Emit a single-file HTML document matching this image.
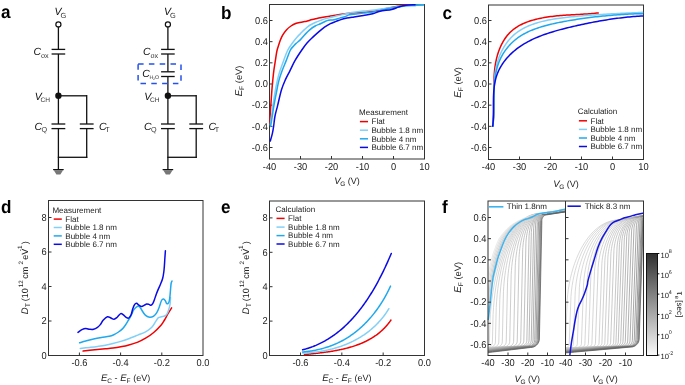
<!DOCTYPE html>
<html><head><meta charset="utf-8"><style>
html,body{margin:0;padding:0;background:#fff;}
svg{display:block;will-change:transform;}
text{font-family:"Liberation Sans", sans-serif;text-rendering:geometricPrecision;}
</style></head><body>
<svg width="685" height="385" viewBox="0 0 685 385">

<g transform="translate(0.9,18.2) scale(0.95,1)"><text x="0" y="0" font-size="18" font-weight="bold" fill="#000">a</text></g>
<g transform="translate(221.1,18.6) scale(0.95,1)"><text x="0" y="0" font-size="18" font-weight="bold" fill="#000">b</text></g>
<g transform="translate(442.6,18.5) scale(0.95,1)"><text x="0" y="0" font-size="18" font-weight="bold" fill="#000">c</text></g>
<g transform="translate(0.9,212.7) scale(0.95,1)"><text x="0" y="0" font-size="18" font-weight="bold" fill="#000">d</text></g>
<g transform="translate(221,213) scale(0.95,1)"><text x="0" y="0" font-size="18" font-weight="bold" fill="#000">e</text></g>
<g transform="translate(441.9,212.7) scale(0.95,1)"><text x="0" y="0" font-size="18" font-weight="bold" fill="#000">f</text></g>
<text x="54.4" y="15" font-size="10.5" text-anchor="start" font-weight="normal" fill="#111" font-style="italic" >V</text>
<text x="60.6" y="17.8" font-size="7.4" text-anchor="start" font-weight="normal" fill="#333" >G</text>
<circle cx="58.4" cy="24.4" r="2.55" fill="#fff" stroke="#111" stroke-width="1.2"/>
<line x1="58.4" y1="27" x2="58.4" y2="49.4" stroke="#111" stroke-width="1.3" />
<line x1="51.6" y1="49.4" x2="65.2" y2="49.4" stroke="#111" stroke-width="1.3" />
<line x1="51.6" y1="54" x2="65.2" y2="54" stroke="#111" stroke-width="1.3" />
<text x="33.4" y="54.7" font-size="10.5" text-anchor="start" font-weight="normal" fill="#111" font-style="italic" >C</text>
<text x="40.9" y="57.5" font-size="7.2" text-anchor="start" font-weight="normal" fill="#333" >ox</text>
<line x1="58.4" y1="54" x2="58.4" y2="95.8" stroke="#111" stroke-width="1.3" />
<circle cx="58.4" cy="95.8" r="3.2" fill="#111"/>
<text x="34.8" y="100.2" font-size="10.5" text-anchor="start" font-weight="normal" fill="#111" font-style="italic" >V</text>
<text x="40.5" y="102.2" font-size="6.6" text-anchor="start" font-weight="normal" fill="#333" >CH</text>
<line x1="58.4" y1="95.8" x2="86.7" y2="95.8" stroke="#111" stroke-width="1.3" />
<line x1="86.7" y1="95.1" x2="86.7" y2="124" stroke="#111" stroke-width="1.3" />
<line x1="58.4" y1="95.8" x2="58.4" y2="124" stroke="#111" stroke-width="1.3" />
<line x1="51.5" y1="124" x2="65.3" y2="124" stroke="#111" stroke-width="1.3" />
<line x1="51.5" y1="128.6" x2="65.3" y2="128.6" stroke="#111" stroke-width="1.3" />
<line x1="79.8" y1="124" x2="93.6" y2="124" stroke="#111" stroke-width="1.3" />
<line x1="79.8" y1="128.6" x2="93.6" y2="128.6" stroke="#111" stroke-width="1.3" />
<text x="34.4" y="129.6" font-size="10.5" text-anchor="start" font-weight="normal" fill="#111" font-style="italic" >C</text>
<text x="41.5" y="131.6" font-size="7.2" text-anchor="start" font-weight="normal" fill="#333" >Q</text>
<text x="99" y="129.8" font-size="10.5" text-anchor="start" font-weight="normal" fill="#111" font-style="italic" >C</text>
<text x="105.3" y="131.8" font-size="7.2" text-anchor="start" font-weight="normal" fill="#333" >T</text>
<line x1="58.4" y1="128.6" x2="58.4" y2="169.5" stroke="#111" stroke-width="1.3" />
<line x1="86.7" y1="128.6" x2="86.7" y2="157.9" stroke="#111" stroke-width="1.3" />
<line x1="57.8" y1="157.3" x2="87.3" y2="157.3" stroke="#111" stroke-width="1.3" />
<polygon points="53.8,170.2 63,170.2 60.4,174.6 56.4,174.6" fill="#777"/>
<line x1="53.1" y1="169.6" x2="63.7" y2="169.6" stroke="#111" stroke-width="1.2" />
<text x="163.9" y="15" font-size="10.5" text-anchor="start" font-weight="normal" fill="#111" font-style="italic" >V</text>
<text x="170.1" y="17.8" font-size="7.4" text-anchor="start" font-weight="normal" fill="#333" >G</text>
<circle cx="167.9" cy="24.4" r="2.55" fill="#fff" stroke="#111" stroke-width="1.2"/>
<line x1="167.9" y1="27" x2="167.9" y2="49.4" stroke="#111" stroke-width="1.3" />
<line x1="161.1" y1="49.4" x2="174.7" y2="49.4" stroke="#111" stroke-width="1.3" />
<line x1="161.1" y1="54" x2="174.7" y2="54" stroke="#111" stroke-width="1.3" />
<text x="142.9" y="54.7" font-size="10.5" text-anchor="start" font-weight="normal" fill="#111" font-style="italic" >C</text>
<text x="150.4" y="57.5" font-size="7.2" text-anchor="start" font-weight="normal" fill="#333" >ox</text>
<line x1="167.9" y1="54" x2="167.9" y2="71.8" stroke="#111" stroke-width="1.3" />
<line x1="161.1" y1="71.8" x2="174.7" y2="71.8" stroke="#111" stroke-width="1.3" />
<line x1="161.1" y1="76.5" x2="174.7" y2="76.5" stroke="#111" stroke-width="1.3" />
<line x1="167.9" y1="76.5" x2="167.9" y2="95.8" stroke="#111" stroke-width="1.3" />
<text x="142.3" y="76.9" font-size="10.5" text-anchor="start" font-weight="normal" fill="#111" font-style="italic" >C</text>
<text x="149.4" y="78.8" font-size="5.2" text-anchor="start" font-weight="normal" fill="#333" >H</text>
<text x="153" y="79.6" font-size="3.6" text-anchor="start" font-weight="normal" fill="#333" >2</text>
<text x="155.1" y="78.8" font-size="5.2" text-anchor="start" font-weight="normal" fill="#333" >O</text>
<rect x="138.1" y="64.1" width="42.9" height="19.3" fill="none" stroke="#2452f0" stroke-width="1.5" stroke-dasharray="5.5,5.3" stroke-dashoffset="0"/>
<circle cx="167.9" cy="95.8" r="3.2" fill="#111"/>
<text x="144.3" y="100.2" font-size="10.5" text-anchor="start" font-weight="normal" fill="#111" font-style="italic" >V</text>
<text x="150" y="102.2" font-size="6.6" text-anchor="start" font-weight="normal" fill="#333" >CH</text>
<line x1="167.9" y1="95.8" x2="196.2" y2="95.8" stroke="#111" stroke-width="1.3" />
<line x1="196.2" y1="95.1" x2="196.2" y2="124" stroke="#111" stroke-width="1.3" />
<line x1="167.9" y1="95.8" x2="167.9" y2="124" stroke="#111" stroke-width="1.3" />
<line x1="161" y1="124" x2="174.8" y2="124" stroke="#111" stroke-width="1.3" />
<line x1="161" y1="128.6" x2="174.8" y2="128.6" stroke="#111" stroke-width="1.3" />
<line x1="189.3" y1="124" x2="203.1" y2="124" stroke="#111" stroke-width="1.3" />
<line x1="189.3" y1="128.6" x2="203.1" y2="128.6" stroke="#111" stroke-width="1.3" />
<text x="143.9" y="129.6" font-size="10.5" text-anchor="start" font-weight="normal" fill="#111" font-style="italic" >C</text>
<text x="151" y="131.6" font-size="7.2" text-anchor="start" font-weight="normal" fill="#333" >Q</text>
<text x="208.5" y="129.8" font-size="10.5" text-anchor="start" font-weight="normal" fill="#111" font-style="italic" >C</text>
<text x="214.8" y="131.8" font-size="7.2" text-anchor="start" font-weight="normal" fill="#333" >T</text>
<line x1="167.9" y1="128.6" x2="167.9" y2="169.5" stroke="#111" stroke-width="1.3" />
<line x1="196.2" y1="128.6" x2="196.2" y2="157.9" stroke="#111" stroke-width="1.3" />
<line x1="167.3" y1="157.3" x2="196.8" y2="157.3" stroke="#111" stroke-width="1.3" />
<polygon points="163.3,170.2 172.5,170.2 169.9,174.6 165.9,174.6" fill="#777"/>
<line x1="162.6" y1="169.6" x2="173.2" y2="169.6" stroke="#111" stroke-width="1.2" />
<rect x="269.5" y="4.5" width="155" height="154.5" fill="none" stroke="#333" stroke-width="1"/>
<line x1="269.5" y1="20.5" x2="272.5" y2="20.5" stroke="#333" stroke-width="1" />
<g transform="translate(267.9,23.8) scale(0.93,1)"><text x="0" y="0" font-size="10" text-anchor="end" fill="#222">0.6</text></g>
<line x1="269.5" y1="41.67" x2="272.5" y2="41.67" stroke="#333" stroke-width="1" />
<g transform="translate(267.9,44.97) scale(0.93,1)"><text x="0" y="0" font-size="10" text-anchor="end" fill="#222">0.4</text></g>
<line x1="269.5" y1="62.83" x2="272.5" y2="62.83" stroke="#333" stroke-width="1" />
<g transform="translate(267.9,66.13) scale(0.93,1)"><text x="0" y="0" font-size="10" text-anchor="end" fill="#222">0.2</text></g>
<line x1="269.5" y1="84" x2="272.5" y2="84" stroke="#333" stroke-width="1" />
<g transform="translate(267.9,87.3) scale(0.93,1)"><text x="0" y="0" font-size="10" text-anchor="end" fill="#222">0.0</text></g>
<line x1="269.5" y1="105.17" x2="272.5" y2="105.17" stroke="#333" stroke-width="1" />
<g transform="translate(267.9,108.47) scale(0.93,1)"><text x="0" y="0" font-size="10" text-anchor="end" fill="#222">-0.2</text></g>
<line x1="269.5" y1="126.33" x2="272.5" y2="126.33" stroke="#333" stroke-width="1" />
<g transform="translate(267.9,129.63) scale(0.93,1)"><text x="0" y="0" font-size="10" text-anchor="end" fill="#222">-0.4</text></g>
<line x1="269.5" y1="147.5" x2="272.5" y2="147.5" stroke="#333" stroke-width="1" />
<g transform="translate(267.9,150.8) scale(0.93,1)"><text x="0" y="0" font-size="10" text-anchor="end" fill="#222">-0.6</text></g>
<line x1="300.5" y1="159" x2="300.5" y2="156" stroke="#333" stroke-width="1" />
<g transform="translate(300.5,170.4) scale(0.93,1)"><text x="0" y="0" font-size="10" text-anchor="middle" fill="#222">-30</text></g>
<line x1="331.5" y1="159" x2="331.5" y2="156" stroke="#333" stroke-width="1" />
<g transform="translate(331.5,170.4) scale(0.93,1)"><text x="0" y="0" font-size="10" text-anchor="middle" fill="#222">-20</text></g>
<line x1="362.5" y1="159" x2="362.5" y2="156" stroke="#333" stroke-width="1" />
<g transform="translate(362.5,170.4) scale(0.93,1)"><text x="0" y="0" font-size="10" text-anchor="middle" fill="#222">-10</text></g>
<line x1="393.5" y1="159" x2="393.5" y2="156" stroke="#333" stroke-width="1" />
<g transform="translate(393.5,170.4) scale(0.93,1)"><text x="0" y="0" font-size="10" text-anchor="middle" fill="#222">0</text></g>
<g transform="translate(269.5,170.2) scale(0.93,1)"><text x="0" y="0" font-size="10" text-anchor="middle" fill="#222">-40</text></g>
<g transform="translate(424.5,170.2) scale(0.93,1)"><text x="0" y="0" font-size="10" text-anchor="middle" fill="#222">10</text></g>
<text x="334.3" y="184" font-size="9.5" text-anchor="start" font-weight="normal" fill="#222" font-style="italic" >V</text>
<text x="340.3" y="186" font-size="6.5" text-anchor="start" font-weight="normal" fill="#222" >G</text>
<text x="345.2" y="184" font-size="9" text-anchor="start" font-weight="normal" fill="#222" xml:space="preserve"> (V)</text>
<g transform="translate(242,81.45) rotate(-90)">
<text x="-14.85" y="0" font-size="9.8" text-anchor="start" font-weight="normal" fill="#222" font-style="italic" >E</text>
<text x="-8.45" y="2" font-size="6.7" text-anchor="start" font-weight="normal" fill="#222" >F</text>
<text x="-4.35" y="0" font-size="9.3" text-anchor="start" font-weight="normal" fill="#222" xml:space="preserve"> (eV)</text>
</g>
<rect x="488.5" y="5" width="155" height="154.5" fill="none" stroke="#333" stroke-width="1"/>
<line x1="488.5" y1="20.5" x2="491.5" y2="20.5" stroke="#333" stroke-width="1" />
<g transform="translate(486.9,23.8) scale(0.93,1)"><text x="0" y="0" font-size="10" text-anchor="end" fill="#222">0.6</text></g>
<line x1="488.5" y1="41.67" x2="491.5" y2="41.67" stroke="#333" stroke-width="1" />
<g transform="translate(486.9,44.97) scale(0.93,1)"><text x="0" y="0" font-size="10" text-anchor="end" fill="#222">0.4</text></g>
<line x1="488.5" y1="62.83" x2="491.5" y2="62.83" stroke="#333" stroke-width="1" />
<g transform="translate(486.9,66.13) scale(0.93,1)"><text x="0" y="0" font-size="10" text-anchor="end" fill="#222">0.2</text></g>
<line x1="488.5" y1="84" x2="491.5" y2="84" stroke="#333" stroke-width="1" />
<g transform="translate(486.9,87.3) scale(0.93,1)"><text x="0" y="0" font-size="10" text-anchor="end" fill="#222">0.0</text></g>
<line x1="488.5" y1="105.17" x2="491.5" y2="105.17" stroke="#333" stroke-width="1" />
<g transform="translate(486.9,108.47) scale(0.93,1)"><text x="0" y="0" font-size="10" text-anchor="end" fill="#222">-0.2</text></g>
<line x1="488.5" y1="126.33" x2="491.5" y2="126.33" stroke="#333" stroke-width="1" />
<g transform="translate(486.9,129.63) scale(0.93,1)"><text x="0" y="0" font-size="10" text-anchor="end" fill="#222">-0.4</text></g>
<line x1="488.5" y1="147.5" x2="491.5" y2="147.5" stroke="#333" stroke-width="1" />
<g transform="translate(486.9,150.8) scale(0.93,1)"><text x="0" y="0" font-size="10" text-anchor="end" fill="#222">-0.6</text></g>
<line x1="519.5" y1="159.5" x2="519.5" y2="156.5" stroke="#333" stroke-width="1" />
<g transform="translate(519.5,170.4) scale(0.93,1)"><text x="0" y="0" font-size="10" text-anchor="middle" fill="#222">-30</text></g>
<line x1="550.5" y1="159.5" x2="550.5" y2="156.5" stroke="#333" stroke-width="1" />
<g transform="translate(550.5,170.4) scale(0.93,1)"><text x="0" y="0" font-size="10" text-anchor="middle" fill="#222">-20</text></g>
<line x1="581.5" y1="159.5" x2="581.5" y2="156.5" stroke="#333" stroke-width="1" />
<g transform="translate(581.5,170.4) scale(0.93,1)"><text x="0" y="0" font-size="10" text-anchor="middle" fill="#222">-10</text></g>
<line x1="612.5" y1="159.5" x2="612.5" y2="156.5" stroke="#333" stroke-width="1" />
<g transform="translate(612.5,170.4) scale(0.93,1)"><text x="0" y="0" font-size="10" text-anchor="middle" fill="#222">0</text></g>
<g transform="translate(488.5,170.2) scale(0.93,1)"><text x="0" y="0" font-size="10" text-anchor="middle" fill="#222">-40</text></g>
<g transform="translate(643.5,170.2) scale(0.93,1)"><text x="0" y="0" font-size="10" text-anchor="middle" fill="#222">10</text></g>
<text x="553.3" y="186.6" font-size="9.5" text-anchor="start" font-weight="normal" fill="#222" font-style="italic" >V</text>
<text x="559.3" y="188.6" font-size="6.5" text-anchor="start" font-weight="normal" fill="#222" >G</text>
<text x="564.2" y="186.6" font-size="9" text-anchor="start" font-weight="normal" fill="#222" xml:space="preserve"> (V)</text>
<g transform="translate(461,82.85) rotate(-90)">
<text x="-14.85" y="0" font-size="9.8" text-anchor="start" font-weight="normal" fill="#222" font-style="italic" >E</text>
<text x="-8.45" y="2" font-size="6.7" text-anchor="start" font-weight="normal" fill="#222" >F</text>
<text x="-4.35" y="0" font-size="9.3" text-anchor="start" font-weight="normal" fill="#222" xml:space="preserve"> (eV)</text>
</g>
<text x="359.1" y="115" font-size="8" text-anchor="start" font-weight="normal" fill="#222" >Measurement</text>
<line x1="359.9" y1="121.6" x2="368" y2="121.6" stroke="#f00000" stroke-width="1.5" />
<text x="371.5" y="124.4" font-size="8" text-anchor="start" font-weight="normal" fill="#222" >Flat</text>
<line x1="359.9" y1="130.2" x2="368" y2="130.2" stroke="#82cff8" stroke-width="1.5" />
<text x="371.5" y="133" font-size="8" text-anchor="start" font-weight="normal" fill="#222" >Bubble 1.8 nm</text>
<line x1="359.9" y1="138.8" x2="368" y2="138.8" stroke="#1fa8ee" stroke-width="1.5" />
<text x="371.5" y="141.6" font-size="8" text-anchor="start" font-weight="normal" fill="#222" >Bubble 4 nm</text>
<line x1="359.9" y1="147.4" x2="368" y2="147.4" stroke="#0a0ae6" stroke-width="1.5" />
<text x="371.5" y="150.2" font-size="8" text-anchor="start" font-weight="normal" fill="#222" >Bubble 6.7 nm</text>
<text x="577.7" y="114.3" font-size="8" text-anchor="start" font-weight="normal" fill="#222" >Calculation</text>
<line x1="578.9" y1="120.8" x2="587" y2="120.8" stroke="#f00000" stroke-width="1.5" />
<text x="590.5" y="123.6" font-size="8" text-anchor="start" font-weight="normal" fill="#222" >Flat</text>
<line x1="578.9" y1="129.4" x2="587" y2="129.4" stroke="#82cff8" stroke-width="1.5" />
<text x="590.5" y="132.2" font-size="8" text-anchor="start" font-weight="normal" fill="#222" >Bubble 1.8 nm</text>
<line x1="578.9" y1="138" x2="587" y2="138" stroke="#1fa8ee" stroke-width="1.5" />
<text x="590.5" y="140.8" font-size="8" text-anchor="start" font-weight="normal" fill="#222" >Bubble 4 nm</text>
<line x1="578.9" y1="146.5" x2="587" y2="146.5" stroke="#0a0ae6" stroke-width="1.5" />
<text x="590.5" y="149.3" font-size="8" text-anchor="start" font-weight="normal" fill="#222" >Bubble 6.7 nm</text>
<rect x="48.5" y="200.5" width="154.5" height="155" fill="none" stroke="#333" stroke-width="1"/>
<line x1="48.5" y1="355.5" x2="51.5" y2="355.5" stroke="#333" stroke-width="1" />
<g transform="translate(46.6,358.8) scale(0.93,1)"><text x="0" y="0" font-size="10" text-anchor="end" fill="#222">0</text></g>
<line x1="48.5" y1="321" x2="51.5" y2="321" stroke="#333" stroke-width="1" />
<g transform="translate(46.6,324.3) scale(0.93,1)"><text x="0" y="0" font-size="10" text-anchor="end" fill="#222">2</text></g>
<line x1="48.5" y1="286.5" x2="51.5" y2="286.5" stroke="#333" stroke-width="1" />
<g transform="translate(46.6,289.8) scale(0.93,1)"><text x="0" y="0" font-size="10" text-anchor="end" fill="#222">4</text></g>
<line x1="48.5" y1="252" x2="51.5" y2="252" stroke="#333" stroke-width="1" />
<g transform="translate(46.6,255.3) scale(0.93,1)"><text x="0" y="0" font-size="10" text-anchor="end" fill="#222">6</text></g>
<line x1="48.5" y1="217.5" x2="51.5" y2="217.5" stroke="#333" stroke-width="1" />
<g transform="translate(46.6,220.8) scale(0.93,1)"><text x="0" y="0" font-size="10" text-anchor="end" fill="#222">8</text></g>
<line x1="79.4" y1="355.5" x2="79.4" y2="352.5" stroke="#333" stroke-width="1" />
<g transform="translate(79.4,366.3) scale(0.93,1)"><text x="0" y="0" font-size="10" text-anchor="middle" fill="#222">-0.6</text></g>
<line x1="120.6" y1="355.5" x2="120.6" y2="352.5" stroke="#333" stroke-width="1" />
<g transform="translate(120.6,366.3) scale(0.93,1)"><text x="0" y="0" font-size="10" text-anchor="middle" fill="#222">-0.4</text></g>
<line x1="161.8" y1="355.5" x2="161.8" y2="352.5" stroke="#333" stroke-width="1" />
<g transform="translate(161.8,366.3) scale(0.93,1)"><text x="0" y="0" font-size="10" text-anchor="middle" fill="#222">-0.2</text></g>
<g transform="translate(203,366.3) scale(0.93,1)"><text x="0" y="0" font-size="10" text-anchor="middle" fill="#222">0.0</text></g>
<text x="101.05" y="380.7" font-size="9.5" text-anchor="start" font-weight="normal" fill="#222" font-style="italic" >E</text>
<text x="107.25" y="382.7" font-size="6.5" text-anchor="start" font-weight="normal" fill="#222" >C</text>
<text x="112.05" y="380.7" font-size="9" text-anchor="start" font-weight="normal" fill="#222" xml:space="preserve"> - </text>
<text x="120.25" y="380.7" font-size="9.5" text-anchor="start" font-weight="normal" fill="#222" font-style="italic" >E</text>
<text x="126.45" y="382.7" font-size="6.5" text-anchor="start" font-weight="normal" fill="#222" >F</text>
<text x="130.65" y="380.7" font-size="9" text-anchor="start" font-weight="normal" fill="#222" xml:space="preserve"> (eV)</text>
<g transform="translate(27.9,277.8) rotate(-90)">
<text x="-36.5" y="0" font-size="9.5" text-anchor="start" font-weight="normal" fill="#222" font-style="italic" >D</text>
<text x="-29.4" y="2" font-size="6.8" text-anchor="start" font-weight="normal" fill="#222" >T</text>
<text x="-23.4" y="0" font-size="9" text-anchor="start" font-weight="normal" fill="#222" >(10</text>
<text x="-9.4" y="-5.2" font-size="6.3" text-anchor="start" font-weight="normal" fill="#222" >12</text>
<text x="-1" y="0" font-size="9" text-anchor="start" font-weight="normal" fill="#222" >cm</text>
<text x="13.4" y="-5.2" font-size="6.3" text-anchor="start" font-weight="normal" fill="#222" >2</text>
<text x="18" y="0" font-size="9" text-anchor="start" font-weight="normal" fill="#222" >eV</text>
<text x="26.6" y="-6.2" font-size="6.3" text-anchor="start" font-weight="normal" fill="#222" >-1</text>
<text x="33.6" y="0" font-size="9" text-anchor="start" font-weight="normal" fill="#222" >)</text>
</g>
<rect x="269.5" y="201" width="155" height="154.5" fill="none" stroke="#333" stroke-width="1"/>
<line x1="269.5" y1="355.5" x2="272.5" y2="355.5" stroke="#333" stroke-width="1" />
<g transform="translate(267.6,358.8) scale(0.93,1)"><text x="0" y="0" font-size="10" text-anchor="end" fill="#222">0</text></g>
<line x1="269.5" y1="321.1" x2="272.5" y2="321.1" stroke="#333" stroke-width="1" />
<g transform="translate(267.6,324.4) scale(0.93,1)"><text x="0" y="0" font-size="10" text-anchor="end" fill="#222">2</text></g>
<line x1="269.5" y1="286.7" x2="272.5" y2="286.7" stroke="#333" stroke-width="1" />
<g transform="translate(267.6,290) scale(0.93,1)"><text x="0" y="0" font-size="10" text-anchor="end" fill="#222">4</text></g>
<line x1="269.5" y1="252.3" x2="272.5" y2="252.3" stroke="#333" stroke-width="1" />
<g transform="translate(267.6,255.6) scale(0.93,1)"><text x="0" y="0" font-size="10" text-anchor="end" fill="#222">6</text></g>
<line x1="269.5" y1="217.9" x2="272.5" y2="217.9" stroke="#333" stroke-width="1" />
<g transform="translate(267.6,221.2) scale(0.93,1)"><text x="0" y="0" font-size="10" text-anchor="end" fill="#222">8</text></g>
<line x1="300.5" y1="355.5" x2="300.5" y2="352.5" stroke="#333" stroke-width="1" />
<g transform="translate(300.5,366.3) scale(0.93,1)"><text x="0" y="0" font-size="10" text-anchor="middle" fill="#222">-0.6</text></g>
<line x1="341.83" y1="355.5" x2="341.83" y2="352.5" stroke="#333" stroke-width="1" />
<g transform="translate(341.83,366.3) scale(0.93,1)"><text x="0" y="0" font-size="10" text-anchor="middle" fill="#222">-0.4</text></g>
<line x1="383.17" y1="355.5" x2="383.17" y2="352.5" stroke="#333" stroke-width="1" />
<g transform="translate(383.17,366.3) scale(0.93,1)"><text x="0" y="0" font-size="10" text-anchor="middle" fill="#222">-0.2</text></g>
<g transform="translate(424.5,366.3) scale(0.93,1)"><text x="0" y="0" font-size="10" text-anchor="middle" fill="#222">0.0</text></g>
<text x="322.3" y="380.7" font-size="9.5" text-anchor="start" font-weight="normal" fill="#222" font-style="italic" >E</text>
<text x="328.5" y="382.7" font-size="6.5" text-anchor="start" font-weight="normal" fill="#222" >C</text>
<text x="333.3" y="380.7" font-size="9" text-anchor="start" font-weight="normal" fill="#222" xml:space="preserve"> - </text>
<text x="341.5" y="380.7" font-size="9.5" text-anchor="start" font-weight="normal" fill="#222" font-style="italic" >E</text>
<text x="347.7" y="382.7" font-size="6.5" text-anchor="start" font-weight="normal" fill="#222" >F</text>
<text x="351.9" y="380.7" font-size="9" text-anchor="start" font-weight="normal" fill="#222" xml:space="preserve"> (eV)</text>
<g transform="translate(248.9,277.8) rotate(-90)">
<text x="-36.5" y="0" font-size="9.5" text-anchor="start" font-weight="normal" fill="#222" font-style="italic" >D</text>
<text x="-29.4" y="2" font-size="6.8" text-anchor="start" font-weight="normal" fill="#222" >T</text>
<text x="-23.4" y="0" font-size="9" text-anchor="start" font-weight="normal" fill="#222" >(10</text>
<text x="-9.4" y="-5.2" font-size="6.3" text-anchor="start" font-weight="normal" fill="#222" >12</text>
<text x="-1" y="0" font-size="9" text-anchor="start" font-weight="normal" fill="#222" >cm</text>
<text x="13.4" y="-5.2" font-size="6.3" text-anchor="start" font-weight="normal" fill="#222" >2</text>
<text x="18" y="0" font-size="9" text-anchor="start" font-weight="normal" fill="#222" >eV</text>
<text x="26.6" y="-6.2" font-size="6.3" text-anchor="start" font-weight="normal" fill="#222" >-1</text>
<text x="33.6" y="0" font-size="9" text-anchor="start" font-weight="normal" fill="#222" >)</text>
</g>
<text x="52.4" y="212.5" font-size="8" text-anchor="start" font-weight="normal" fill="#222" >Measurement</text>
<line x1="53.7" y1="219.1" x2="61.8" y2="219.1" stroke="#f00000" stroke-width="1.5" />
<text x="65.3" y="221.9" font-size="8" text-anchor="start" font-weight="normal" fill="#222" >Flat</text>
<line x1="53.7" y1="227.5" x2="61.8" y2="227.5" stroke="#82cff8" stroke-width="1.5" />
<text x="65.3" y="230.3" font-size="8" text-anchor="start" font-weight="normal" fill="#222" >Bubble 1.8 nm</text>
<line x1="53.7" y1="235.9" x2="61.8" y2="235.9" stroke="#1fa8ee" stroke-width="1.5" />
<text x="65.3" y="238.7" font-size="8" text-anchor="start" font-weight="normal" fill="#222" >Bubble 4 nm</text>
<line x1="53.7" y1="244.3" x2="61.8" y2="244.3" stroke="#0a0ae6" stroke-width="1.5" />
<text x="65.3" y="247.1" font-size="8" text-anchor="start" font-weight="normal" fill="#222" >Bubble 6.7 nm</text>
<text x="275.5" y="212" font-size="8" text-anchor="start" font-weight="normal" fill="#222" >Calculation</text>
<line x1="276.5" y1="218.4" x2="284.6" y2="218.4" stroke="#f00000" stroke-width="1.5" />
<text x="288.1" y="221.2" font-size="8" text-anchor="start" font-weight="normal" fill="#222" >Flat</text>
<line x1="276.5" y1="227.1" x2="284.6" y2="227.1" stroke="#82cff8" stroke-width="1.5" />
<text x="288.1" y="229.9" font-size="8" text-anchor="start" font-weight="normal" fill="#222" >Bubble 1.8 nm</text>
<line x1="276.5" y1="235.6" x2="284.6" y2="235.6" stroke="#1fa8ee" stroke-width="1.5" />
<text x="288.1" y="238.4" font-size="8" text-anchor="start" font-weight="normal" fill="#222" >Bubble 4 nm</text>
<line x1="276.5" y1="244" x2="284.6" y2="244" stroke="#0a0ae6" stroke-width="1.5" />
<text x="288.1" y="246.8" font-size="8" text-anchor="start" font-weight="normal" fill="#222" >Bubble 6.7 nm</text>
<path d="M269.9,123C269.93,121.83 269.95,118.9 270.1,116C270.25,113.1 270.5,109.93 270.8,105.6C271.1,101.27 271.57,94.25 271.9,90C272.23,85.75 272.48,83.3 272.8,80.1C273.12,76.9 273.37,74.08 273.8,70.8C274.23,67.52 274.88,63.7 275.4,60.4C275.92,57.1 276.35,53.57 276.9,51C277.45,48.43 278.15,46.75 278.7,45C279.25,43.25 279.57,42.1 280.2,40.5C280.83,38.9 281.47,37.17 282.5,35.4C283.53,33.63 284.98,31.47 286.4,29.9C287.82,28.33 289.35,27.1 291,26C292.65,24.9 294.87,23.88 296.3,23.3C297.73,22.72 298.4,22.77 299.6,22.5C300.8,22.23 302.33,21.92 303.5,21.7C304.67,21.48 305.55,21.45 306.6,21.2C307.65,20.95 308.65,20.52 309.8,20.2C310.95,19.88 312.02,19.65 313.5,19.3C314.98,18.95 316.87,18.48 318.7,18.1C320.53,17.72 322.55,17.33 324.5,17C326.45,16.67 328.63,16.38 330.4,16.1C332.17,15.82 333.55,15.58 335.1,15.3C336.65,15.02 337.32,14.75 339.7,14.4C342.08,14.05 346.35,13.5 349.4,13.2C352.45,12.9 355.08,12.8 358,12.6C360.92,12.4 363.57,12.37 366.9,12C370.23,11.63 374.48,11.03 378,10.4C381.52,9.77 384.67,8.9 388,8.2C391.33,7.5 395,6.73 398,6.2C401,5.67 403.17,5.23 406,5C408.83,4.77 413.5,4.83 415,4.8" fill="none" stroke="#f00000" stroke-width="1.5" stroke-linejoin="round" stroke-linecap="round" />
<path d="M270.3,125C270.52,123.5 271.17,119.23 271.6,116C272.03,112.77 272.27,109.93 272.9,105.6C273.53,101.27 274.65,94.25 275.4,90C276.15,85.75 276.63,83.3 277.4,80.1C278.17,76.9 278.95,74.08 280,70.8C281.05,67.52 282.4,63.87 283.7,60.4C285,56.93 286.25,53.03 287.8,50C289.35,46.97 291.43,44.37 293,42.2C294.57,40.03 295.95,38.43 297.2,37C298.45,35.57 299.25,34.87 300.5,33.6C301.75,32.33 303.22,30.75 304.7,29.4C306.18,28.05 307.65,26.65 309.4,25.5C311.15,24.35 313.27,23.38 315.2,22.5C317.13,21.62 319.25,20.85 321,20.2C322.75,19.55 323.93,19.08 325.7,18.6C327.47,18.12 329.65,17.77 331.6,17.3C333.55,16.83 335.17,16.33 337.4,15.8C339.63,15.27 343,14.57 345,14.1C347,13.63 347.57,13.35 349.4,13C351.23,12.65 353.67,12.32 356,12C358.33,11.68 360.23,11.45 363.4,11.1C366.57,10.75 371.4,10.35 375,9.9C378.6,9.45 382.22,8.78 385,8.4C387.78,8.02 388.63,8.03 391.7,7.6C394.77,7.17 399.52,6.15 403.4,5.8C407.28,5.45 411.65,5.65 415,5.5C418.35,5.35 422.08,5 423.5,4.9" fill="none" stroke="#82cff8" stroke-width="1.5" stroke-linejoin="round" stroke-linecap="round" />
<path d="M270.6,126.5C270.88,124.75 271.75,119.48 272.3,116C272.85,112.52 273.13,109.93 273.9,105.6C274.67,101.27 276.05,94.25 276.9,90C277.75,85.75 278.13,83.3 279,80.1C279.87,76.9 280.88,74.08 282.1,70.8C283.32,67.52 284.92,63.87 286.3,60.4C287.68,56.93 289.18,52.4 290.4,50C291.62,47.6 292.65,47.1 293.6,46C294.55,44.9 294.95,44.47 296.1,43.4C297.25,42.33 299.07,41.03 300.5,39.6C301.93,38.17 303.22,36.38 304.7,34.8C306.18,33.22 307.65,31.57 309.4,30.1C311.15,28.63 313.27,27.1 315.2,26C317.13,24.9 319.28,24.3 321,23.5C322.72,22.7 324.25,21.75 325.5,21.2C326.75,20.65 327.42,20.4 328.5,20.2C329.58,20 330.9,20.1 332,20C333.1,19.9 333.82,19.92 335.1,19.6C336.38,19.28 338.05,18.6 339.7,18.1C341.35,17.6 343.38,17.15 345,16.6C346.62,16.05 347.57,15.23 349.4,14.8C351.23,14.37 353.67,14.28 356,14C358.33,13.72 360.23,13.48 363.4,13.1C366.57,12.72 371.4,12.32 375,11.7C378.6,11.08 382.22,10.02 385,9.4C387.78,8.78 388.63,8.53 391.7,8C394.77,7.47 399.52,6.63 403.4,6.2C407.28,5.77 411.65,5.62 415,5.4C418.35,5.18 422.08,4.98 423.5,4.9" fill="none" stroke="#1fa8ee" stroke-width="1.5" stroke-linejoin="round" stroke-linecap="round" />
<path d="M270.3,141.1C270.65,139.8 271.85,135.73 272.4,133.3C272.95,130.87 273.17,129.38 273.6,126.5C274.03,123.62 274.33,119.48 275,116C275.67,112.52 276.53,109.93 277.6,105.6C278.67,101.27 280.13,94.25 281.4,90C282.67,85.75 283.78,83.3 285.2,80.1C286.62,76.9 288.25,74.08 289.9,70.8C291.55,67.52 293.12,63.87 295.1,60.4C297.08,56.93 299.82,52.9 301.8,50C303.78,47.1 305.15,45.15 307,43C308.85,40.85 310.95,38.95 312.9,37.1C314.85,35.25 316.77,33.55 318.7,31.9C320.63,30.25 322.55,28.57 324.5,27.2C326.45,25.83 328.45,24.67 330.4,23.7C332.35,22.73 334.45,22.08 336.2,21.4C337.95,20.72 339.1,20.15 340.9,19.6C342.7,19.05 344.82,18.55 347,18.1C349.18,17.65 351.27,17.35 354,16.9C356.73,16.45 360.28,15.92 363.4,15.4C366.52,14.88 369.93,14.5 372.7,13.8C375.47,13.1 376.83,11.93 380,11.2C383.17,10.47 388.58,10.1 391.7,9.4C394.82,8.7 396.37,7.68 398.7,7C401.03,6.32 402.98,5.68 405.7,5.3C408.42,4.92 413.45,4.8 415,4.7" fill="none" stroke="#0a0ae6" stroke-width="1.5" stroke-linejoin="round" stroke-linecap="round" />
<path d="M492.58,126.34 492.81,124.82 493.01,123.29 493.19,121.75 493.35,120.21 493.48,118.65 493.6,117.09 493.69,115.53 493.77,113.96 493.83,112.38 493.88,110.79 493.91,109.21 493.94,107.61 493.95,106.01 493.95,104.41 493.95,102.8 493.94,101.19 493.93,99.58 493.91,97.96 493.89,96.34 493.87,94.72 493.86,93.1 493.84,91.48 493.83,89.85 493.83,88.23 493.83,86.6 493.85,84.97 493.87,83.35 493.9,81.72 493.95,80.1 494.01,78.48 494.09,76.85 494.18,75.23 494.29,73.62 494.43,72 494.58,70.39 494.76,68.79 494.96,67.18 495.19,65.58 495.45,63.99 495.73,62.4 496.05,60.81 496.39,59.24 496.77,57.66 497.18,56.1 497.63,54.55 498.11,53.01 498.62,51.49 499.17,49.99 499.75,48.5 500.37,47.03 501.02,45.59 501.72,44.17 502.45,42.78 503.21,41.41 504.02,40.08 504.86,38.77 505.75,37.5 506.67,36.27 507.64,35.07 508.64,33.92 509.69,32.8 510.78,31.72 511.92,30.7 513.09,29.71 514.31,28.77 515.56,27.88 516.85,27.03 518.18,26.22 519.54,25.45 520.93,24.71 522.34,24.02 523.79,23.36 525.26,22.74 526.75,22.15 528.27,21.59 529.8,21.07 531.36,20.58 532.92,20.11 534.5,19.68 536.09,19.27 537.7,18.88 539.3,18.52 540.92,18.19 542.54,17.88 544.16,17.58 545.77,17.31 547.39,17.06 549.01,16.82 550.63,16.6 552.24,16.4 553.85,16.21 555.46,16.04 557.07,15.87 558.68,15.72 560.29,15.58 561.9,15.46 563.5,15.33 565.1,15.22 566.7,15.12 568.3,15.02 569.9,14.92 571.49,14.83 573.08,14.74 574.67,14.66 576.26,14.57 577.85,14.48 579.43,14.4 581.02,14.31 582.6,14.22 584.17,14.12 585.75,14.02 587.32,13.91 588.89,13.8 590.46,13.68 592.03,13.55 593.59,13.41 595.15,13.26 596.71,13.09 598.26,12.92" fill="none" stroke="#f00000" stroke-width="1.5" stroke-linejoin="round" stroke-linecap="round" />
<path d="M492.75,126.31 492.96,124.52 493.14,122.72 493.29,120.89 493.42,119.05 493.52,117.19 493.6,115.31 493.66,113.41 493.71,111.51 493.74,109.59 493.76,107.65 493.77,105.71 493.78,103.76 493.78,101.8 493.79,99.84 493.79,97.87 493.8,95.89 493.82,93.91 493.85,91.93 493.89,89.95 493.94,87.97 494.02,85.99 494.11,84.01 494.23,82.03 494.37,80.07 494.55,78.1 494.75,76.15 494.99,74.2 495.26,72.27 495.57,70.34 495.92,68.43 496.32,66.53 496.77,64.64 497.26,62.77 497.8,60.92 498.4,59.09 499.05,57.27 499.74,55.49 500.49,53.73 501.29,51.99 502.13,50.29 503.03,48.62 503.98,46.98 504.98,45.38 506.03,43.82 507.13,42.3 508.28,40.82 509.48,39.39 510.73,38.01 512.03,36.67 513.38,35.39 514.78,34.16 516.23,32.99 517.73,31.87 519.28,30.82 520.87,29.81 522.51,28.86 524.18,27.96 525.89,27.11 527.63,26.31 529.41,25.56 531.21,24.84 533.04,24.17 534.89,23.54 536.76,22.95 538.64,22.4 540.54,21.88 542.45,21.39 544.37,20.93 546.3,20.5 548.23,20.1 550.16,19.72 552.09,19.37 554.03,19.05 555.97,18.74 557.92,18.45 559.86,18.18 561.8,17.92 563.74,17.68 565.68,17.46 567.62,17.24 569.56,17.03 571.49,16.83 573.42,16.64 575.34,16.46 577.26,16.28 579.18,16.1 581.1,15.93 583.01,15.77 584.92,15.61 586.83,15.46 588.73,15.31 590.64,15.17 592.54,15.03 594.45,14.9 596.35,14.77 598.25,14.64 600.15,14.52 602.05,14.4 603.96,14.28 605.86,14.17 607.76,14.06 609.67,13.95 611.57,13.85 613.48,13.75 615.39,13.65 617.31,13.55 619.22,13.45 621.14,13.36 623.07,13.27 624.99,13.18 626.92,13.08 628.86,12.99 630.79,12.91 632.74,12.82 634.69,12.73 636.64,12.64 638.6,12.55 640.56,12.46 642.53,12.37" fill="none" stroke="#82cff8" stroke-width="1.5" stroke-linejoin="round" stroke-linecap="round" />
<path d="M492.84,126.35 493.04,124.64 493.21,122.9 493.36,121.13 493.47,119.34 493.56,117.53 493.64,115.69 493.69,113.84 493.74,111.96 493.77,110.08 493.79,108.17 493.8,106.25 493.82,104.33 493.83,102.39 493.84,100.44 493.86,98.49 493.89,96.54 493.92,94.58 493.97,92.62 494.04,90.66 494.13,88.71 494.23,86.75 494.36,84.81 494.52,82.87 494.71,80.94 494.93,79.02 495.18,77.11 495.47,75.22 495.81,73.34 496.18,71.49 496.61,69.65 497.08,67.83 497.6,66.03 498.18,64.26 498.82,62.52 499.51,60.8 500.26,59.11 501.06,57.45 501.92,55.82 502.84,54.23 503.81,52.66 504.82,51.13 505.89,49.64 507.01,48.18 508.18,46.76 509.39,45.38 510.65,44.04 511.95,42.75 513.3,41.49 514.69,40.28 516.12,39.11 517.6,37.98 519.11,36.91 520.66,35.88 522.25,34.9 523.87,33.97 525.53,33.08 527.22,32.24 528.93,31.43 530.67,30.67 532.43,29.94 534.22,29.25 536.02,28.59 537.83,27.97 539.66,27.37 541.5,26.8 543.35,26.26 545.2,25.73 547.06,25.24 548.92,24.76 550.78,24.3 552.65,23.86 554.52,23.43 556.39,23.02 558.26,22.63 560.13,22.26 562,21.89 563.87,21.54 565.74,21.2 567.61,20.87 569.48,20.55 571.35,20.24 573.21,19.94 575.08,19.64 576.94,19.35 578.8,19.07 580.66,18.8 582.51,18.53 584.37,18.27 586.23,18.02 588.08,17.77 589.93,17.53 591.79,17.3 593.64,17.08 595.5,16.86 597.35,16.65 599.21,16.45 601.07,16.25 602.92,16.06 604.78,15.88 606.64,15.71 608.5,15.54 610.37,15.38 612.23,15.22 614.1,15.07 615.97,14.93 617.85,14.8 619.72,14.67 621.6,14.54 623.48,14.43 625.37,14.32 627.26,14.22 629.16,14.12 631.05,14.03 632.96,13.95 634.86,13.87 636.77,13.8 638.69,13.74 640.61,13.68 642.54,13.63" fill="none" stroke="#1fa8ee" stroke-width="1.5" stroke-linejoin="round" stroke-linecap="round" />
<path d="M492.74,126.09 492.92,124.39 493.06,122.67 493.18,120.93 493.26,119.16 493.32,117.38 493.36,115.58 493.39,113.76 493.4,111.93 493.41,110.09 493.41,108.24 493.4,106.38 493.4,104.52 493.41,102.65 493.43,100.78 493.46,98.91 493.5,97.04 493.57,95.18 493.66,93.32 493.78,91.47 493.93,89.62 494.12,87.79 494.34,85.97 494.61,84.17 494.93,82.38 495.29,80.61 495.71,78.86 496.19,77.14 496.73,75.43 497.33,73.76 498,72.11 498.72,70.48 499.51,68.89 500.35,67.32 501.25,65.78 502.21,64.28 503.21,62.8 504.26,61.35 505.36,59.94 506.5,58.55 507.68,57.2 508.91,55.89 510.17,54.6 511.46,53.35 512.79,52.14 514.15,50.96 515.54,49.82 516.96,48.71 518.4,47.64 519.87,46.61 521.37,45.6 522.88,44.63 524.42,43.69 525.99,42.78 527.57,41.9 529.17,41.05 530.79,40.23 532.43,39.43 534.09,38.66 535.76,37.92 537.45,37.2 539.15,36.5 540.86,35.83 542.59,35.17 544.33,34.54 546.07,33.93 547.83,33.34 549.59,32.76 551.37,32.2 553.14,31.66 554.93,31.14 556.71,30.63 558.51,30.13 560.3,29.65 562.09,29.17 563.89,28.71 565.68,28.26 567.48,27.82 569.27,27.39 571.06,26.96 572.84,26.54 574.62,26.13 576.39,25.73 578.16,25.33 579.93,24.94 581.7,24.55 583.46,24.17 585.22,23.8 586.98,23.44 588.74,23.08 590.49,22.73 592.25,22.38 594,22.05 595.76,21.72 597.51,21.4 599.27,21.08 601.03,20.78 602.79,20.48 604.55,20.18 606.31,19.9 608.08,19.62 609.85,19.35 611.62,19.09 613.39,18.84 615.18,18.59 616.96,18.36 618.75,18.13 620.54,17.9 622.35,17.69 624.15,17.49 625.97,17.29 627.79,17.1 629.61,16.92 631.45,16.75 633.29,16.59 635.14,16.43 637,16.29 638.87,16.15 640.74,16.02 642.63,15.9" fill="none" stroke="#0a0ae6" stroke-width="1.5" stroke-linejoin="round" stroke-linecap="round" />
<path d="M83.1,351.1C84.2,350.97 87.3,350.57 89.7,350.3C92.1,350.03 94.9,349.75 97.5,349.5C100.1,349.25 102.72,349.05 105.3,348.8C107.88,348.55 110.42,348.33 113,348C115.58,347.67 118.3,347.25 120.8,346.8C123.3,346.35 125.17,346.08 128,345.3C130.83,344.52 134.87,343.28 137.8,342.1C140.73,340.92 143,339.77 145.6,338.2C148.2,336.63 150.8,334.92 153.4,332.7C156,330.48 159.35,327.02 161.2,324.9C163.05,322.78 163.42,321.78 164.5,320C165.58,318.22 166.52,316.22 167.7,314.2C168.88,312.18 170.95,308.95 171.6,307.9" fill="none" stroke="#f00000" stroke-width="1.5" stroke-linejoin="round" stroke-linecap="round" />
<path d="M80.3,348.5C81.87,348.32 86.83,347.75 89.7,347.4C92.57,347.05 94.9,346.77 97.5,346.4C100.1,346.03 102.72,345.68 105.3,345.2C107.88,344.72 110.42,344.13 113,343.5C115.58,342.87 118.3,342.15 120.8,341.4C123.3,340.65 125.17,340.05 128,339C130.83,337.95 134.87,336.28 137.8,335.1C140.73,333.92 143.27,333.2 145.6,331.9C147.93,330.6 150.12,329.05 151.8,327.3C153.48,325.55 154.6,323 155.7,321.4C156.8,319.8 157.43,318.48 158.4,317.7C159.37,316.92 160.47,316.98 161.5,316.7C162.53,316.42 163.68,316.48 164.6,316C165.52,315.52 166.35,314.75 167,313.8C167.65,312.85 167.98,311.93 168.5,310.3C169.02,308.67 169.77,306.13 170.1,304C170.43,301.87 170.43,298.58 170.5,297.5" fill="none" stroke="#82cff8" stroke-width="1.5" stroke-linejoin="round" stroke-linecap="round" />
<path d="M79.6,342.8C80.63,342.5 83.47,341.63 85.8,341C88.13,340.37 91,339.58 93.6,339C96.2,338.42 98.8,337.95 101.4,337.5C104,337.05 107.13,336.77 109.2,336.3C111.27,335.83 112.25,335.42 113.8,334.7C115.35,333.98 117.07,332.97 118.5,332C119.93,331.03 121.23,330.07 122.4,328.9C123.57,327.73 124.55,326.37 125.5,325C126.45,323.63 127.15,322.32 128.1,320.7C129.05,319.08 130.3,317.05 131.2,315.3C132.1,313.55 132.72,311.5 133.5,310.2C134.28,308.9 135.12,308.15 135.9,307.5C136.68,306.85 137.43,306.23 138.2,306.3C138.97,306.37 139.73,306.98 140.5,307.9C141.27,308.82 141.9,310.5 142.8,311.8C143.7,313.1 144.73,314.78 145.9,315.7C147.07,316.62 148.5,317.23 149.8,317.3C151.1,317.37 152.53,316.88 153.7,316.1C154.87,315.32 155.88,314.08 156.8,312.6C157.72,311.12 158.42,309.22 159.2,307.2C159.98,305.18 160.78,301.87 161.5,300.5C162.22,299.13 162.85,298.93 163.5,299C164.15,299.07 164.88,300.17 165.4,300.9C165.92,301.63 166.15,302.97 166.6,303.4C167.05,303.83 167.65,303.92 168.1,303.5C168.55,303.08 168.97,302.37 169.3,300.9C169.63,299.43 169.87,296.92 170.1,294.7C170.33,292.48 170.52,289.55 170.7,287.6C170.88,285.65 170.98,284.1 171.2,283C171.42,281.9 171.87,281.33 172,281" fill="none" stroke="#1fa8ee" stroke-width="1.5" stroke-linejoin="round" stroke-linecap="round" />
<path d="M78,332.4C78.65,331.95 80.6,330.35 81.9,329.7C83.2,329.05 84.5,328.57 85.8,328.5C87.1,328.43 88.4,329.17 89.7,329.3C91,329.43 92.3,329.63 93.6,329.3C94.9,328.97 96.38,328.08 97.5,327.3C98.62,326.52 99.37,325.77 100.3,324.6C101.23,323.43 101.92,321.62 103.1,320.3C104.28,318.98 106.1,317.08 107.4,316.7C108.7,316.32 109.8,317.57 110.9,318C112,318.43 112.95,319.43 114,319.3C115.05,319.17 116.08,318.15 117.2,317.2C118.32,316.25 119.67,313.98 120.7,313.6C121.73,313.22 122.43,314.23 123.4,314.9C124.37,315.57 125.6,317.08 126.5,317.6C127.4,318.12 128.02,318.52 128.8,318C129.58,317.48 130.55,316 131.2,314.5C131.85,313 132.12,310.68 132.7,309C133.28,307.32 134.05,305.37 134.7,304.4C135.35,303.43 135.9,303.07 136.6,303.2C137.3,303.33 138.07,304.65 138.9,305.2C139.73,305.75 140.68,306.5 141.6,306.5C142.52,306.5 143.55,305.63 144.4,305.2C145.25,304.77 145.93,304.03 146.7,303.9C147.47,303.77 148.28,304.18 149,304.4C149.72,304.62 150.35,305.38 151,305.2C151.65,305.02 152.32,304.27 152.9,303.3C153.48,302.33 153.97,300.83 154.5,299.4C155.03,297.97 155.52,296.28 156.1,294.7C156.68,293.12 157.23,291.73 158,289.9C158.77,288.07 159.92,285.65 160.7,283.7C161.48,281.75 162.18,280.15 162.7,278.2C163.22,276.25 163.52,274.1 163.8,272C164.08,269.9 164.22,267.97 164.4,265.6C164.58,263.23 164.73,260.27 164.9,257.8C165.07,255.33 165.32,251.97 165.4,250.8" fill="none" stroke="#0a0ae6" stroke-width="1.5" stroke-linejoin="round" stroke-linecap="round" />
<path d="M304.45,354.61 305.22,354.53 306,354.45 306.78,354.36 307.56,354.28 308.34,354.2 309.12,354.11 309.91,354.03 310.7,353.94 311.49,353.86 312.28,353.77 313.07,353.68 313.87,353.6 314.67,353.51 315.46,353.42 316.26,353.33 317.06,353.24 317.86,353.14 318.67,353.05 319.47,352.95 320.27,352.86 321.08,352.76 321.89,352.66 322.69,352.55 323.5,352.45 324.31,352.34 325.12,352.23 325.92,352.12 326.73,352.01 327.54,351.89 328.35,351.77 329.16,351.65 329.97,351.53 330.78,351.4 331.59,351.27 332.39,351.14 333.2,351.01 334.01,350.87 334.82,350.73 335.62,350.58 336.43,350.43 337.23,350.28 338.04,350.13 338.84,349.97 339.64,349.81 340.44,349.64 341.24,349.47 342.04,349.29 342.84,349.11 343.63,348.93 344.43,348.74 345.22,348.55 346.01,348.36 346.8,348.15 347.59,347.95 348.37,347.74 349.15,347.52 349.93,347.3 350.71,347.08 351.49,346.85 352.26,346.61 353.04,346.37 353.81,346.12 354.57,345.87 355.34,345.61 356.1,345.35 356.86,345.08 357.61,344.8 358.37,344.52 359.12,344.23 359.86,343.94 360.61,343.64 361.35,343.33 362.09,343.02 362.82,342.7 363.55,342.37 364.28,342.04 365,341.7 365.72,341.35 366.43,341 367.14,340.64 367.85,340.27 368.55,339.9 369.25,339.51 369.95,339.12 370.64,338.72 371.32,338.32 372.01,337.91 372.68,337.48 373.35,337.06 374.02,336.62 374.69,336.17 375.34,335.72 376,335.26 376.64,334.79 377.29,334.31 377.92,333.82 378.56,333.32 379.18,332.82 379.8,332.31 380.42,331.78 381.03,331.25 381.63,330.71 382.23,330.16 382.83,329.6 383.41,329.03 383.99,328.45 384.57,327.87 385.14,327.27 385.7,326.66 386.26,326.04 386.81,325.41 387.35,324.78 387.89,324.13 388.42,323.47 388.94,322.8 389.46,322.12 389.96,321.43 390.47,320.73 390.96,320.02" fill="none" stroke="#f00000" stroke-width="1.5" stroke-linejoin="round" stroke-linecap="round" />
<path d="M302.71,353.01 303.56,352.99 304.41,352.96 305.26,352.92 306.11,352.88 306.96,352.84 307.81,352.78 308.66,352.73 309.51,352.67 310.36,352.6 311.21,352.53 312.06,352.45 312.91,352.36 313.76,352.28 314.6,352.18 315.45,352.08 316.3,351.98 317.14,351.87 317.99,351.75 318.83,351.63 319.68,351.5 320.52,351.37 321.36,351.23 322.2,351.09 323.04,350.94 323.88,350.79 324.72,350.63 325.55,350.46 326.39,350.29 327.22,350.11 328.05,349.93 328.88,349.74 329.71,349.55 330.54,349.35 331.36,349.14 332.18,348.93 333.01,348.71 333.83,348.49 334.64,348.26 335.46,348.03 336.27,347.79 337.08,347.54 337.89,347.29 338.7,347.03 339.5,346.76 340.31,346.49 341.11,346.22 341.9,345.93 342.7,345.64 343.49,345.35 344.28,345.05 345.07,344.74 345.85,344.43 346.63,344.11 347.41,343.78 348.18,343.45 348.96,343.11 349.73,342.77 350.49,342.42 351.25,342.06 352.01,341.69 352.77,341.33 353.52,340.95 354.27,340.57 355.02,340.18 355.76,339.78 356.5,339.38 357.23,338.97 357.96,338.56 358.69,338.14 359.41,337.71 360.13,337.28 360.85,336.84 361.56,336.39 362.26,335.94 362.97,335.48 363.67,335.02 364.36,334.54 365.05,334.06 365.74,333.58 366.42,333.09 367.09,332.59 367.77,332.08 368.43,331.57 369.1,331.06 369.75,330.53 370.41,330 371.06,329.46 371.7,328.92 372.34,328.37 372.97,327.81 373.6,327.24 374.22,326.67 374.84,326.1 375.45,325.51 376.06,324.92 376.66,324.32 377.26,323.72 377.85,323.11 378.44,322.49 379.02,321.86 379.59,321.23 380.16,320.59 380.72,319.95 381.28,319.3 381.83,318.64 382.37,317.97 382.91,317.3 383.45,316.62 383.97,315.93 384.49,315.24 385.01,314.54 385.52,313.83 386.02,313.12 386.51,312.4 387,311.67 387.48,310.94 387.96,310.2 388.43,309.45 388.89,308.69" fill="none" stroke="#82cff8" stroke-width="1.5" stroke-linejoin="round" stroke-linecap="round" />
<path d="M302.59,352 303.57,351.91 304.56,351.82 305.55,351.71 306.53,351.6 307.51,351.48 308.49,351.35 309.47,351.21 310.45,351.07 311.42,350.91 312.39,350.75 313.36,350.58 314.33,350.4 315.29,350.21 316.26,350.02 317.21,349.81 318.17,349.6 319.13,349.37 320.08,349.14 321.02,348.9 321.97,348.65 322.91,348.4 323.85,348.13 324.78,347.86 325.71,347.57 326.64,347.28 327.56,346.98 328.48,346.67 329.4,346.35 330.31,346.02 331.22,345.69 332.13,345.34 333.03,344.99 333.92,344.63 334.81,344.25 335.7,343.87 336.58,343.48 337.46,343.09 338.33,342.68 339.2,342.26 340.06,341.84 340.92,341.4 341.77,340.96 342.62,340.5 343.46,340.04 344.3,339.57 345.13,339.09 345.96,338.6 346.78,338.1 347.6,337.6 348.41,337.08 349.21,336.56 350.01,336.03 350.8,335.49 351.59,334.94 352.38,334.38 353.15,333.82 353.92,333.25 354.69,332.67 355.45,332.08 356.21,331.48 356.96,330.88 357.7,330.27 358.44,329.65 359.18,329.03 359.9,328.39 360.62,327.75 361.34,327.11 362.05,326.46 362.76,325.8 363.46,325.13 364.15,324.45 364.84,323.77 365.52,323.09 366.2,322.4 366.87,321.7 367.54,320.99 368.19,320.28 368.85,319.56 369.5,318.84 370.14,318.11 370.78,317.37 371.41,316.63 372.03,315.89 372.65,315.14 373.26,314.38 373.87,313.62 374.47,312.85 375.07,312.08 375.66,311.3 376.24,310.52 376.82,309.73 377.39,308.94 377.95,308.14 378.51,307.34 379.07,306.54 379.62,305.73 380.16,304.91 380.69,304.09 381.22,303.27 381.75,302.45 382.26,301.62 382.77,300.78 383.28,299.94 383.78,299.1 384.27,298.26 384.76,297.41 385.24,296.56 385.71,295.7 386.18,294.84 386.64,293.98 387.1,293.12 387.55,292.25 387.99,291.38 388.43,290.51 388.86,289.64 389.28,288.76 389.7,287.88 390.11,287 390.52,286.11" fill="none" stroke="#1fa8ee" stroke-width="1.5" stroke-linejoin="round" stroke-linecap="round" />
<path d="M302.61,349.83 303.77,349.53 304.91,349.21 306.05,348.88 307.17,348.54 308.29,348.19 309.4,347.82 310.5,347.44 311.6,347.04 312.69,346.64 313.76,346.22 314.83,345.78 315.9,345.34 316.95,344.88 318,344.41 319.03,343.93 320.07,343.43 321.09,342.93 322.1,342.41 323.11,341.88 324.11,341.34 325.1,340.79 326.09,340.22 327.06,339.65 328.03,339.06 328.99,338.47 329.95,337.86 330.89,337.24 331.83,336.62 332.76,335.98 333.69,335.33 334.61,334.67 335.52,334.01 336.42,333.33 337.31,332.64 338.2,331.94 339.08,331.24 339.96,330.52 340.83,329.8 341.69,329.07 342.54,328.33 343.39,327.58 344.23,326.82 345.06,326.05 345.89,325.27 346.7,324.49 347.52,323.7 348.32,322.9 349.12,322.09 349.91,321.28 350.7,320.46 351.48,319.63 352.25,318.79 353.02,317.95 353.78,317.1 354.53,316.24 355.28,315.38 356.02,314.51 356.76,313.63 357.49,312.75 358.21,311.86 358.93,310.97 359.64,310.07 360.34,309.16 361.04,308.25 361.73,307.33 362.42,306.41 363.1,305.48 363.77,304.55 364.44,303.61 365.11,302.67 365.76,301.72 366.41,300.77 367.06,299.81 367.7,298.85 368.34,297.89 368.96,296.92 369.59,295.95 370.21,294.97 370.82,293.99 371.43,293.01 372.03,292.03 372.62,291.04 373.21,290.04 373.8,289.05 374.38,288.05 374.96,287.05 375.53,286.05 376.09,285.04 376.65,284.04 377.21,283.03 377.76,282.02 378.3,281 378.84,279.99 379.38,278.97 379.91,277.95 380.43,276.93 380.96,275.91 381.47,274.89 381.98,273.87 382.49,272.85 382.99,271.82 383.49,270.8 383.98,269.78 384.47,268.75 384.96,267.73 385.44,266.7 385.91,265.68 386.38,264.65 386.85,263.63 387.31,262.61 387.77,261.58 388.22,260.56 388.67,259.54 389.12,258.52 389.56,257.51 390,256.49 390.43,255.47 390.86,254.46 391.29,253.45" fill="none" stroke="#0a0ae6" stroke-width="1.5" stroke-linejoin="round" stroke-linecap="round" />
<defs><clipPath id="cfl"><rect x="488.0" y="201.0" width="77.5" height="154.5"/></clipPath><clipPath id="cfr"><rect x="565.5" y="201.0" width="78.0" height="154.5"/></clipPath><linearGradient id="cbg" x1="0" y1="0" x2="0" y2="1"><stop offset="0" stop-color="#303030"/><stop offset="1" stop-color="#fbfbfb"/></linearGradient></defs>
<g clip-path="url(#cfl)">
<path d="M478.4,347.38 479.38,347.28 480.32,347 481.2,346.54 481.97,345.92 482.6,345.16 483.08,344.29 483.39,343.36 483.51,342.38 483.79,333.97 484.3,325.6 485.03,317.3 485.98,309.1 487.13,301.05 488.5,293.17 490.06,285.51 491.82,278.09 493.77,270.94 495.89,264.11 498.19,257.6 500.64,251.46 503.25,245.71 505.99,240.37 508.86,235.47 511.84,231.03 514.93,227.06 518.1,223.59 521.35,220.62 524.65,218.18 528.01,216.27 531.39,214.9 534.8,214.08 538.21,213.8 552.75,211.7 570.3,209.2" fill="none" stroke="#cdcdcd" stroke-width="0.75" stroke-linejoin="round" stroke-linecap="round" stroke-linecap="butt"/>
<path d="M481.4,347.34 482.38,347.24 483.32,346.96 484.2,346.5 484.97,345.87 485.6,345.12 486.09,344.25 486.39,343.31 486.51,342.34 486.9,328.33 487.39,320.36 488.08,312.45 488.97,304.64 490.06,296.97 491.35,289.47 492.82,282.17 494.48,275.1 496.32,268.29 498.32,261.77 500.49,255.58 502.8,249.72 505.26,244.25 507.84,239.16 510.55,234.49 513.36,230.26 516.27,226.48 519.26,223.17 522.32,220.35 525.43,218.02 528.6,216.2 531.79,214.89 534.99,214.11 538.2,213.85 552.75,211.77 570.3,209.29" fill="none" stroke="#cdcdcd" stroke-width="0.75" stroke-linejoin="round" stroke-linecap="round" stroke-linecap="butt"/>
<path d="M484.3,347.31 485.28,347.21 486.22,346.92 487.1,346.46 487.87,345.84 488.51,345.08 488.99,344.22 489.29,343.28 489.41,342.3 489.94,321.6 490.39,314.1 491.04,306.66 491.88,299.31 492.91,292.1 494.12,285.04 495.51,278.17 497.07,271.52 498.8,265.11 500.68,258.98 502.72,253.15 504.9,247.65 507.21,242.49 509.64,237.71 512.18,233.31 514.83,229.33 517.56,225.78 520.38,222.66 523.26,220.01 526.19,217.82 529.16,216.11 532.17,214.88 535.18,214.14 538.2,213.89 552.75,211.84 570.3,209.38" fill="none" stroke="#cccccc" stroke-width="0.75" stroke-linejoin="round" stroke-linecap="round" stroke-linecap="butt"/>
<path d="M483.19,347.68 484.01,347.59 484.83,347.51 485.65,347.43 486.47,347.34 487.29,347.26 488.27,347.16 489.22,346.88 490.09,346.41 490.87,345.79 491.51,345.03 491.99,344.16 492.29,343.23 492.41,342.25 493.08,314.65 493.5,307.63 494.11,300.67 494.89,293.8 495.85,287.06 496.99,280.46 498.29,274.03 499.75,267.82 501.36,261.83 503.12,256.1 505.03,250.64 507.06,245.5 509.22,240.68 511.5,236.2 513.88,232.1 516.35,228.37 518.91,225.05 521.54,222.14 524.23,219.66 526.97,217.61 529.75,216.01 532.56,214.86 535.38,214.17 538.21,213.94 552.75,211.9 570.3,209.47" fill="none" stroke="#cbcbcb" stroke-width="0.75" stroke-linejoin="round" stroke-linecap="round" stroke-linecap="butt"/>
<path d="M483.19,347.94 484.61,347.79 486.03,347.65 487.44,347.5 488.86,347.35 490.28,347.21 491.26,347.11 492.21,346.82 493.09,346.36 493.86,345.73 494.5,344.97 494.99,344.11 495.29,343.16 495.41,342.18 496.22,307.7 496.61,301.17 497.18,294.69 497.91,288.3 498.8,282.02 499.85,275.88 501.06,269.9 502.42,264.12 503.93,258.55 505.57,253.21 507.34,248.14 509.23,243.35 511.24,238.87 513.36,234.7 515.57,230.88 517.87,227.42 520.25,224.32 522.7,221.61 525.21,219.3 527.76,217.4 530.35,215.91 532.96,214.84 535.58,214.2 538.21,213.98 552.75,211.97 570.29,209.56" fill="none" stroke="#c9c9c9" stroke-width="0.75" stroke-linejoin="round" stroke-linecap="round" stroke-linecap="butt"/>
<path d="M483.18,348.2 485.28,347.98 487.38,347.76 489.47,347.55 491.57,347.33 493.66,347.11 494.65,347.01 495.6,346.72 496.48,346.26 497.26,345.63 497.9,344.87 498.39,344 498.69,343.05 498.81,342.07 499.78,299.83 500.14,293.85 500.65,287.92 501.32,282.07 502.14,276.32 503.11,270.7 504.21,265.23 505.46,259.93 506.83,254.83 508.34,249.94 509.96,245.3 511.69,240.92 513.53,236.81 515.47,233 517.5,229.5 519.6,226.33 521.78,223.49 524.02,221.02 526.32,218.9 528.65,217.16 531.02,215.79 533.41,214.81 535.82,214.22 538.22,214.03 552.75,212.04 570.29,209.65" fill="none" stroke="#c7c7c7" stroke-width="0.75" stroke-linejoin="round" stroke-linecap="round" stroke-linecap="butt"/>
<path d="M483.18,348.47 485.97,348.17 488.76,347.88 491.55,347.59 494.35,347.29 497.14,347 498.13,346.9 499.09,346.61 499.97,346.14 500.75,345.51 501.4,344.74 501.89,343.87 502.2,342.92 502.31,341.93 503.44,291.74 503.77,286.33 504.23,280.97 504.84,275.67 505.58,270.46 506.45,265.38 507.46,260.42 508.58,255.63 509.83,251.01 511.19,246.59 512.66,242.38 514.23,238.41 515.89,234.7 517.65,231.25 519.48,228.08 521.39,225.21 523.36,222.64 525.39,220.4 527.47,218.48 529.58,216.9 531.73,215.67 533.89,214.78 536.07,214.25 538.25,214.07 552.77,212.11 570.29,209.75" fill="none" stroke="#c5c5c5" stroke-width="0.75" stroke-linejoin="round" stroke-linecap="round" stroke-linecap="butt"/>
<path d="M483.17,348.73 486.74,348.35 490.3,347.98 493.87,347.6 497.43,347.22 501,346.84 502,346.74 502.96,346.45 503.86,345.98 504.65,345.34 505.3,344.57 505.79,343.69 506.1,342.73 506.22,341.73 507.52,282.75 507.81,277.97 508.22,273.23 508.76,268.55 509.41,263.95 510.18,259.45 511.07,255.08 512.07,250.84 513.17,246.76 514.37,242.85 515.67,239.14 517.06,235.63 518.53,232.34 520.08,229.29 521.7,226.49 523.39,223.96 525.13,221.69 526.93,219.71 528.76,218.02 530.63,216.62 532.53,215.53 534.44,214.75 536.37,214.28 538.29,214.12 552.79,212.18 570.29,209.84" fill="none" stroke="#c2c2c2" stroke-width="0.75" stroke-linejoin="round" stroke-linecap="round" stroke-linecap="butt"/>
<path d="M483.17,349 487.42,348.55 491.68,348.09 495.93,347.63 500.19,347.18 504.45,346.72 505.46,346.62 506.43,346.33 507.34,345.85 508.13,345.21 508.79,344.43 509.29,343.53 509.6,342.56 509.72,341.56 511.18,274.73 511.44,270.51 511.8,266.33 512.27,262.2 512.85,258.14 513.53,254.17 514.32,250.31 515.19,246.57 516.17,242.97 517.23,239.52 518.38,236.24 519.6,233.15 520.9,230.25 522.27,227.56 523.7,225.09 525.19,222.85 526.73,220.85 528.32,219.1 529.94,217.6 531.59,216.37 533.26,215.41 534.96,214.72 536.65,214.3 538.35,214.16 552.82,212.25 570.29,209.93" fill="none" stroke="#bebebe" stroke-width="0.75" stroke-linejoin="round" stroke-linecap="round" stroke-linecap="butt"/>
<path d="M483.16,349.27 488.18,348.73 493.21,348.19 498.23,347.64 503.25,347.1 508.28,346.56 509.3,346.46 510.29,346.16 511.21,345.68 512.01,345.03 512.68,344.23 513.19,343.33 513.51,342.34 513.63,341.32 515.26,265.83 515.48,262.23 515.79,258.67 516.19,255.15 516.69,251.69 517.27,248.31 517.93,245.01 518.68,241.83 519.51,238.76 520.42,235.82 521.4,233.03 522.45,230.39 523.55,227.92 524.72,225.62 525.95,223.52 527.22,221.61 528.53,219.91 529.88,218.41 531.27,217.14 532.68,216.09 534.1,215.27 535.55,214.68 537,214.33 538.45,214.21 552.86,212.31 570.28,210.02" fill="none" stroke="#bababa" stroke-width="0.75" stroke-linejoin="round" stroke-linecap="round" stroke-linecap="butt"/>
<path d="M483.15,349.54 488.88,348.92 494.61,348.3 500.34,347.67 506.06,347.05 511.79,346.43 512.83,346.32 513.84,346.02 514.77,345.53 515.59,344.87 516.27,344.06 516.78,343.14 517.11,342.14 517.23,341.1 519.02,257.69 519.21,254.67 519.47,251.67 519.81,248.7 520.22,245.79 520.72,242.95 521.28,240.18 521.91,237.49 522.61,234.91 523.37,232.44 524.2,230.09 525.08,227.87 526.02,225.79 527,223.86 528.03,222.09 529.11,220.48 530.22,219.05 531.36,217.79 532.52,216.72 533.71,215.84 534.92,215.15 536.13,214.65 537.36,214.35 538.58,214.25 552.93,212.38 570.28,210.11" fill="none" stroke="#b6b6b6" stroke-width="0.75" stroke-linejoin="round" stroke-linecap="round" stroke-linecap="butt"/>
<path d="M483.15,349.82 489.56,349.11 495.96,348.41 502.37,347.71 508.78,347 515.19,346.3 516.25,346.2 517.27,345.89 518.23,345.39 519.06,344.71 519.76,343.89 520.28,342.94 520.61,341.92 520.74,340.86 522.68,249.88 522.83,247.4 523.05,244.94 523.33,242.52 523.67,240.13 524.07,237.8 524.53,235.53 525.05,233.34 525.63,231.22 526.26,229.19 526.93,227.27 527.66,225.45 528.43,223.75 529.24,222.17 530.09,220.72 530.97,219.4 531.88,218.23 532.82,217.2 533.78,216.32 534.75,215.6 535.74,215.03 536.75,214.63 537.75,214.38 538.76,214.3 553.01,212.45 570.28,210.2" fill="none" stroke="#b1b1b1" stroke-width="0.75" stroke-linejoin="round" stroke-linecap="round" stroke-linecap="butt"/>
<path d="M483.14,350.09 490.15,349.32 497.15,348.54 504.15,347.77 511.15,346.99 518.16,346.22 519.24,346.11 520.3,345.8 521.27,345.28 522.13,344.59 522.84,343.75 523.37,342.78 523.71,341.74 523.84,340.65 525.92,243.11 526.04,241.11 526.21,239.12 526.44,237.16 526.72,235.23 527.05,233.35 527.42,231.51 527.84,229.74 528.31,228.03 528.82,226.39 529.37,224.83 529.96,223.36 530.59,221.98 531.25,220.71 531.94,219.53 532.66,218.47 533.4,217.52 534.16,216.69 534.94,215.98 535.73,215.39 536.54,214.94 537.35,214.61 538.17,214.41 538.99,214.35 553.13,212.52 570.28,210.29" fill="none" stroke="#acacac" stroke-width="0.75" stroke-linejoin="round" stroke-linecap="round" stroke-linecap="butt"/>
<path d="M483.14,350.37 490.71,349.53 498.28,348.68 505.86,347.84 513.43,346.99 521,346.15 522.12,346.04 523.2,345.71 524.2,345.19 525.09,344.47 525.81,343.61 526.36,342.62 526.71,341.54 526.85,340.43 529.04,236.74 529.14,235.18 529.28,233.64 529.45,232.11 529.67,230.61 529.93,229.15 530.22,227.73 530.55,226.35 530.92,225.02 531.32,223.75 531.75,222.54 532.22,221.39 532.71,220.32 533.22,219.33 533.76,218.42 534.32,217.59 534.91,216.86 535.5,216.21 536.11,215.66 536.74,215.21 537.37,214.85 538.01,214.6 538.65,214.44 539.29,214.39 553.28,212.59 570.28,210.38" fill="none" stroke="#a6a6a6" stroke-width="0.75" stroke-linejoin="round" stroke-linecap="round" stroke-linecap="butt"/>
<path d="M483.13,350.66 491.11,349.76 499.09,348.86 507.07,347.96 515.05,347.07 523.02,346.17 524.18,346.06 525.29,345.72 526.32,345.18 527.23,344.44 527.99,343.55 528.55,342.53 528.91,341.42 529.05,340.27 531.33,232.38 531.41,231.13 531.52,229.89 531.66,228.67 531.84,227.46 532.05,226.29 532.29,225.14 532.56,224.04 532.86,222.97 533.18,221.95 533.53,220.98 533.91,220.06 534.31,219.2 534.73,218.4 535.17,217.67 535.63,217.01 536.1,216.42 536.58,215.9 537.08,215.46 537.59,215.09 538.1,214.81 538.62,214.6 539.15,214.48 539.67,214.44 553.47,212.65 570.28,210.47" fill="none" stroke="#a0a0a0" stroke-width="0.75" stroke-linejoin="round" stroke-linecap="round" stroke-linecap="butt"/>
<path d="M483.13,350.94 491.5,349.99 499.88,349.04 508.26,348.09 516.64,347.14 525.02,346.19 526.21,346.08 527.36,345.73 528.43,345.16 529.37,344.4 530.15,343.48 530.74,342.42 531.11,341.28 531.25,340.08 533.62,228.25 533.68,227.29 533.76,226.34 533.87,225.4 534.01,224.48 534.18,223.58 534.36,222.7 534.57,221.85 534.81,221.03 535.06,220.25 535.34,219.5 535.63,218.8 535.94,218.14 536.27,217.53 536.61,216.96 536.97,216.46 537.34,216 537.72,215.6 538.11,215.26 538.51,214.98 538.91,214.76 539.32,214.61 539.73,214.51 540.14,214.48 553.7,212.72 570.27,210.56" fill="none" stroke="#999999" stroke-width="0.75" stroke-linejoin="round" stroke-linecap="round" stroke-linecap="butt"/>
<path d="M483.12,351.23 491.81,350.24 500.5,349.25 509.19,348.25 517.89,347.26 526.58,346.27 527.82,346.14 529.02,345.78 530.13,345.2 531.1,344.41 531.91,343.45 532.52,342.35 532.91,341.16 533.06,339.92 535.47,225.28 535.52,224.53 535.59,223.79 535.68,223.05 535.79,222.33 535.92,221.63 536.07,220.94 536.24,220.28 536.43,219.64 536.63,219.03 536.85,218.45 537.09,217.9 537.34,217.38 537.6,216.9 537.88,216.47 538.17,216.07 538.46,215.71 538.77,215.4 539.08,215.14 539.4,214.92 539.72,214.75 540.05,214.63 540.38,214.55 540.71,214.53 553.99,212.79 570.27,210.65" fill="none" stroke="#929292" stroke-width="0.75" stroke-linejoin="round" stroke-linecap="round" stroke-linecap="butt"/>
<path d="M483.11,351.53 492.09,350.49 501.07,349.46 510.05,348.43 519.03,347.39 528.01,346.36 529.3,346.23 530.55,345.85 531.71,345.24 532.72,344.42 533.57,343.42 534.2,342.27 534.61,341.03 534.76,339.74 537.22,222.82 537.26,222.25 537.32,221.68 537.39,221.12 537.48,220.56 537.58,220.02 537.7,219.5 537.83,218.99 537.98,218.5 538.14,218.03 538.32,217.58 538.51,217.16 538.71,216.76 538.92,216.4 539.14,216.06 539.37,215.76 539.61,215.48 539.85,215.24 540.1,215.04 540.35,214.87 540.61,214.74 540.87,214.65 541.14,214.59 541.4,214.57 554.33,212.86 570.27,210.75" fill="none" stroke="#8a8a8a" stroke-width="0.75" stroke-linejoin="round" stroke-linecap="round" stroke-linecap="butt"/>
<path d="M483.11,351.83 492.29,350.76 501.46,349.7 510.64,348.63 519.82,347.57 529,346.5 530.35,346.37 531.66,345.97 532.87,345.34 533.94,344.48 534.82,343.43 535.48,342.23 535.9,340.93 536.06,339.58 538.55,221.49 538.58,221.01 538.63,220.53 538.69,220.07 538.77,219.6 538.86,219.15 538.97,218.72 539.08,218.29 539.21,217.88 539.36,217.49 539.51,217.12 539.68,216.77 539.85,216.44 540.04,216.14 540.23,215.86 540.43,215.6 540.64,215.38 540.86,215.18 541.08,215.01 541.3,214.87 541.53,214.76 541.76,214.68 541.99,214.63 542.22,214.62 554.74,212.93 570.27,210.84" fill="none" stroke="#828282" stroke-width="0.75" stroke-linejoin="round" stroke-linecap="round" stroke-linecap="butt"/>
<path d="M483.1,352.14 492.45,351.04 501.8,349.95 511.16,348.86 520.51,347.76 529.86,346.67 531.28,346.53 532.65,346.11 533.92,345.44 535.03,344.54 535.96,343.44 536.66,342.19 537.1,340.83 537.27,339.41 539.77,220.59 539.8,220.18 539.84,219.77 539.9,219.37 539.97,218.97 540.06,218.58 540.15,218.2 540.26,217.84 540.39,217.48 540.52,217.15 540.66,216.83 540.82,216.52 540.98,216.24 541.15,215.98 541.33,215.73 541.52,215.51 541.72,215.32 541.92,215.15 542.12,215 542.33,214.88 542.55,214.79 542.76,214.72 542.98,214.68 543.19,214.66 555.23,213 570.27,210.93" fill="none" stroke="#797979" stroke-width="0.75" stroke-linejoin="round" stroke-linecap="round" stroke-linecap="butt"/>
<path d="M483.09,352.46 492.55,351.34 502.01,350.23 511.47,349.11 520.92,348 530.38,346.88 531.87,346.74 533.31,346.3 534.65,345.6 535.82,344.65 536.8,343.49 537.53,342.17 537.99,340.74 538.17,339.25 540.67,220.38 540.71,219.98 540.75,219.59 540.81,219.2 540.89,218.82 540.98,218.45 541.08,218.09 541.2,217.74 541.33,217.4 541.47,217.08 541.62,216.78 541.79,216.49 541.96,216.21 542.15,215.96 542.34,215.73 542.54,215.52 542.75,215.33 542.97,215.17 543.19,215.03 543.41,214.92 543.64,214.83 543.87,214.76 544.1,214.72 544.33,214.71 555.79,213.06 570.26,211.02" fill="none" stroke="#707070" stroke-width="0.75" stroke-linejoin="round" stroke-linecap="round" stroke-linecap="butt"/>
<path d="M483.09,352.79 492.6,351.66 502.12,350.53 511.63,349.4 521.15,348.27 530.66,347.14 532.23,346.99 533.75,346.53 535.16,345.79 536.4,344.78 537.42,343.57 538.2,342.18 538.69,340.67 538.87,339.1 541.38,220.37 541.41,219.98 541.46,219.59 541.53,219.21 541.62,218.83 541.72,218.47 541.84,218.11 541.98,217.76 542.13,217.43 542.3,217.11 542.48,216.8 542.67,216.52 542.87,216.25 543.09,216 543.32,215.77 543.55,215.56 543.8,215.37 544.05,215.21 544.31,215.07 544.57,214.96 544.84,214.87 545.11,214.81 545.38,214.77 545.66,214.75 556.46,213.13 570.26,211.11" fill="none" stroke="#676767" stroke-width="0.75" stroke-linejoin="round" stroke-linecap="round" stroke-linecap="butt"/>
<path d="M483.08,353.18 492.6,352.04 502.13,350.9 511.65,349.76 521.17,348.62 530.7,347.48 532.36,347.32 533.96,346.83 535.45,346.05 536.76,344.99 537.84,343.7 538.66,342.23 539.18,340.64 539.38,338.98 541.88,220.15 541.92,219.77 541.99,219.4 542.07,219.04 542.18,218.68 542.31,218.33 542.45,217.99 542.62,217.66 542.81,217.34 543.01,217.04 543.23,216.75 543.47,216.48 543.73,216.22 543.99,215.98 544.27,215.76 544.57,215.57 544.87,215.39 545.19,215.24 545.51,215.1 545.83,214.99 546.17,214.91 546.5,214.85 546.84,214.81 547.18,214.8 557.22,213.2 570.26,211.2" fill="none" stroke="#5d5d5d" stroke-width="0.75" stroke-linejoin="round" stroke-linecap="round" stroke-linecap="butt"/>
</g>
<g clip-path="url(#cfr)">
<path d="M561.88,347.81 562.56,347.74 563.23,347.54 563.84,347.22 564.39,346.78 564.84,346.25 565.19,345.65 565.41,344.99 565.5,344.31 567.13,300.53 567.64,294.93 568.34,289.38 569.24,283.91 570.34,278.52 571.62,273.26 573.09,268.14 574.73,263.18 576.55,258.4 578.53,253.83 580.67,249.49 582.94,245.38 585.36,241.54 587.9,237.97 590.55,234.7 593.31,231.73 596.16,229.08 599.08,226.76 602.08,224.77 605.12,223.14 608.21,221.87 611.33,220.95 614.45,220.4 617.58,220.21 632.41,217.41 650.25,214.2" fill="none" stroke="#cdcdcd" stroke-width="0.75" stroke-linejoin="round" stroke-linecap="round" stroke-linecap="butt"/>
<path d="M560.87,348.04 561.81,347.97 562.75,347.9 563.7,347.84 564.64,347.77 565.58,347.71 566.27,347.64 566.93,347.44 567.55,347.12 568.09,346.68 568.54,346.15 568.89,345.54 569.11,344.89 569.2,344.21 570.97,296.43 571.45,291.1 572.12,285.82 572.98,280.61 574.02,275.48 575.24,270.47 576.64,265.6 578.21,260.88 579.94,256.33 581.82,251.98 583.85,247.84 586.02,243.93 588.32,240.28 590.74,236.88 593.27,233.76 595.89,230.93 598.6,228.41 601.39,226.2 604.24,224.32 607.14,222.76 610.08,221.55 613.04,220.68 616.02,220.15 619,219.98 633.12,217.29 650.25,214.2" fill="none" stroke="#cdcdcd" stroke-width="0.75" stroke-linejoin="round" stroke-linecap="round" stroke-linecap="butt"/>
<path d="M560.86,348.2 562.63,348.07 564.39,347.95 566.16,347.82 567.92,347.69 569.68,347.57 570.37,347.5 571.03,347.3 571.65,346.98 572.2,346.54 572.65,346.01 572.99,345.41 573.22,344.75 573.31,344.07 575.23,291.89 575.68,286.86 576.31,281.87 577.12,276.95 578.1,272.11 579.26,267.38 580.58,262.78 582.06,258.32 583.69,254.03 585.47,249.92 587.39,246.02 589.43,242.33 591.6,238.88 593.89,235.67 596.27,232.73 598.75,230.06 601.31,227.67 603.94,225.59 606.63,223.81 609.37,222.34 612.14,221.19 614.94,220.37 617.75,219.88 620.56,219.71 633.9,217.16 650.25,214.21" fill="none" stroke="#cdcdcd" stroke-width="0.75" stroke-linejoin="round" stroke-linecap="round" stroke-linecap="butt"/>
<path d="M560.86,348.36 563.42,348.17 565.99,347.99 568.55,347.8 571.12,347.62 573.68,347.43 574.37,347.37 575.04,347.17 575.65,346.84 576.2,346.41 576.65,345.88 577,345.27 577.22,344.61 577.31,343.93 579.38,287.46 579.8,282.72 580.4,278.02 581.16,273.38 582.09,268.83 583.17,264.37 584.42,260.03 585.81,255.83 587.35,251.79 589.03,247.92 590.83,244.24 592.76,240.76 594.81,237.51 596.96,234.49 599.21,231.71 601.54,229.2 603.95,226.96 606.43,224.99 608.96,223.31 611.54,221.93 614.16,220.85 616.8,220.07 619.44,219.61 622.09,219.45 634.67,217.04 650.25,214.22" fill="none" stroke="#cccccc" stroke-width="0.75" stroke-linejoin="round" stroke-linecap="round" stroke-linecap="butt"/>
<path d="M560.85,348.52 564.24,348.27 567.62,348.03 571.01,347.78 574.4,347.53 577.78,347.29 578.47,347.22 579.14,347.02 579.75,346.7 580.3,346.26 580.76,345.73 581.1,345.12 581.33,344.46 581.42,343.77 583.63,282.91 584.03,278.47 584.59,274.07 585.3,269.73 586.17,265.46 587.19,261.28 588.35,257.22 589.66,253.28 591.1,249.49 592.67,245.86 594.37,242.42 596.17,239.16 598.09,236.11 600.11,233.28 602.21,230.68 604.4,228.32 606.66,226.22 608.98,224.38 611.36,222.81 613.77,221.51 616.22,220.5 618.7,219.77 621.18,219.33 623.66,219.19 635.45,216.91 650.25,214.23" fill="none" stroke="#cbcbcb" stroke-width="0.75" stroke-linejoin="round" stroke-linecap="round" stroke-linecap="butt"/>
<path d="M560.85,348.68 564.93,348.38 569.02,348.08 573.1,347.78 577.19,347.48 581.27,347.18 581.96,347.11 582.63,346.91 583.25,346.59 583.8,346.15 584.26,345.61 584.61,345.01 584.83,344.34 584.92,343.66 587.26,279.04 587.64,274.85 588.16,270.7 588.84,266.6 589.65,262.58 590.62,258.64 591.71,254.81 592.95,251.1 594.31,247.53 595.79,244.11 597.38,240.86 599.09,237.79 600.89,234.91 602.79,232.24 604.78,229.79 606.84,227.57 608.97,225.59 611.16,223.85 613.4,222.37 615.68,221.15 617.99,220.2 620.32,219.51 622.66,219.1 625,218.96 636.12,216.81 650.25,214.25" fill="none" stroke="#cacaca" stroke-width="0.75" stroke-linejoin="round" stroke-linecap="round" stroke-linecap="butt"/>
<path d="M560.84,348.84 565.62,348.49 570.41,348.14 575.19,347.78 579.97,347.43 584.76,347.07 585.45,347 586.12,346.8 586.75,346.48 587.3,346.03 587.76,345.5 588.11,344.88 588.33,344.22 588.43,343.53 590.89,275.16 591.24,271.23 591.74,267.33 592.37,263.48 593.14,259.7 594.04,256 595.07,252.41 596.23,248.92 597.51,245.57 598.9,242.36 600.4,239.3 602,236.42 603.7,233.72 605.48,231.21 607.35,228.91 609.28,226.82 611.28,224.96 613.34,223.33 615.44,221.94 617.58,220.79 619.75,219.89 621.94,219.25 624.14,218.86 626.34,218.73 636.79,216.7 650.25,214.27" fill="none" stroke="#c9c9c9" stroke-width="0.75" stroke-linejoin="round" stroke-linecap="round" stroke-linecap="butt"/>
<path d="M560.83,349.01 566.31,348.6 571.8,348.19 577.28,347.78 582.76,347.37 588.24,346.96 588.94,346.89 589.61,346.69 590.24,346.36 590.8,345.91 591.26,345.37 591.61,344.76 591.84,344.09 591.93,343.39 594.52,271.28 594.85,267.6 595.31,263.96 595.91,260.36 596.63,256.82 597.47,253.37 598.44,250 599.52,246.74 600.71,243.6 602.01,240.6 603.41,237.74 604.91,235.05 606.5,232.52 608.17,230.18 609.91,228.02 611.72,226.07 613.59,224.33 615.52,222.81 617.49,221.51 619.49,220.43 621.52,219.59 623.56,218.99 625.62,218.63 627.67,218.51 637.45,216.6 650.25,214.3" fill="none" stroke="#c8c8c8" stroke-width="0.75" stroke-linejoin="round" stroke-linecap="round" stroke-linecap="butt"/>
<path d="M560.83,349.18 567,348.71 573.18,348.24 579.35,347.78 585.53,347.31 591.71,346.85 592.41,346.78 593.09,346.57 593.73,346.24 594.29,345.79 594.76,345.24 595.11,344.62 595.34,343.94 595.44,343.24 598.15,267.4 598.46,263.98 598.89,260.58 599.44,257.23 600.11,253.94 600.9,250.73 601.8,247.59 602.8,244.56 603.91,241.64 605.12,238.84 606.43,236.19 607.82,233.68 609.3,231.32 610.85,229.14 612.48,227.14 614.16,225.32 615.91,223.7 617.7,222.28 619.53,221.07 621.39,220.07 623.28,219.29 625.18,218.73 627.1,218.4 629.01,218.28 638.12,216.51 650.25,214.33" fill="none" stroke="#c6c6c6" stroke-width="0.75" stroke-linejoin="round" stroke-linecap="round" stroke-linecap="butt"/>
<path d="M560.82,349.35 567.71,348.82 574.6,348.3 581.49,347.77 588.38,347.25 595.27,346.72 595.98,346.65 596.67,346.44 597.31,346.11 597.88,345.65 598.36,345.1 598.72,344.47 598.95,343.78 599.04,343.07 601.89,263.4 602.17,260.24 602.57,257.11 603.08,254.02 603.7,250.98 604.42,248.01 605.25,245.11 606.18,242.31 607.21,239.62 608.33,237.04 609.53,234.58 610.82,232.26 612.18,230.09 613.62,228.08 615.12,226.23 616.68,224.55 618.28,223.05 619.94,221.74 621.63,220.63 623.35,219.7 625.09,218.98 626.85,218.47 628.62,218.15 630.39,218.05 638.81,216.41 650.25,214.37" fill="none" stroke="#c4c4c4" stroke-width="0.75" stroke-linejoin="round" stroke-linecap="round" stroke-linecap="butt"/>
<path d="M560.82,349.52 568.28,348.94 575.74,348.37 583.19,347.79 590.65,347.22 598.11,346.65 598.84,346.58 599.54,346.37 600.19,346.02 600.77,345.56 601.25,345 601.62,344.36 601.85,343.66 601.95,342.94 604.9,260.18 605.16,257.23 605.53,254.31 606.01,251.42 606.59,248.59 607.26,245.81 608.04,243.11 608.9,240.5 609.86,237.99 610.91,235.58 612.03,233.29 613.23,231.12 614.51,229.1 615.85,227.22 617.24,225.49 618.7,223.93 620.2,222.53 621.74,221.31 623.32,220.27 624.93,219.41 626.56,218.73 628.2,218.25 629.85,217.96 631.5,217.86 639.36,216.33 650.25,214.4" fill="none" stroke="#c1c1c1" stroke-width="0.75" stroke-linejoin="round" stroke-linecap="round" stroke-linecap="butt"/>
<path d="M560.81,349.69 568.84,349.07 576.87,348.44 584.89,347.82 592.92,347.2 600.95,346.57 601.69,346.5 602.4,346.29 603.07,345.94 603.65,345.47 604.14,344.9 604.51,344.24 604.75,343.54 604.85,342.8 607.91,256.95 608.15,254.21 608.5,251.5 608.94,248.82 609.47,246.19 610.1,243.62 610.82,241.11 611.63,238.69 612.52,236.35 613.49,234.12 614.53,231.99 615.65,229.98 616.83,228.1 618.07,226.36 619.37,224.76 620.72,223.31 622.12,222.01 623.55,220.87 625.01,219.91 626.51,219.11 628.02,218.48 629.54,218.03 631.07,217.77 632.61,217.68 639.92,216.26 650.24,214.45" fill="none" stroke="#bfbfbf" stroke-width="0.75" stroke-linejoin="round" stroke-linecap="round" stroke-linecap="butt"/>
<path d="M560.8,349.86 569.4,349.19 577.99,348.52 586.58,347.84 595.18,347.17 603.77,346.5 604.52,346.42 605.25,346.2 605.93,345.85 606.53,345.37 607.03,344.78 607.41,344.12 607.66,343.39 607.76,342.64 610.92,253.71 611.14,251.19 611.46,248.68 611.87,246.21 612.36,243.79 612.94,241.41 613.61,239.1 614.35,236.87 615.17,234.71 616.07,232.65 617.03,230.69 618.06,228.84 619.15,227.11 620.3,225.5 621.5,224.02 622.74,222.68 624.03,221.48 625.35,220.44 626.71,219.54 628.08,218.81 629.48,218.23 630.89,217.82 632.3,217.57 633.71,217.49 640.47,216.19 650.24,214.49" fill="none" stroke="#bcbcbc" stroke-width="0.75" stroke-linejoin="round" stroke-linecap="round" stroke-linecap="butt"/>
<path d="M560.8,350.04 569.95,349.32 579.11,348.59 588.26,347.87 597.42,347.14 606.57,346.42 607.35,346.34 608.1,346.12 608.79,345.75 609.41,345.26 609.92,344.66 610.31,343.98 610.56,343.24 610.66,342.47 613.93,250.46 614.13,248.15 614.42,245.86 614.8,243.6 615.25,241.38 615.78,239.2 616.39,237.09 617.07,235.04 617.83,233.07 618.65,231.18 619.53,229.39 620.47,227.69 621.47,226.11 622.53,224.63 623.63,223.28 624.77,222.05 625.95,220.96 627.16,220 628.4,219.18 629.66,218.51 630.94,217.98 632.23,217.6 633.53,217.38 634.82,217.3 641.02,216.12 650.24,214.54" fill="none" stroke="#b8b8b8" stroke-width="0.75" stroke-linejoin="round" stroke-linecap="round" stroke-linecap="butt"/>
<path d="M560.79,350.22 570.53,349.44 580.26,348.67 590,347.89 599.73,347.11 609.47,346.34 610.26,346.26 611.03,346.03 611.75,345.65 612.38,345.15 612.91,344.53 613.31,343.83 613.56,343.07 613.67,342.27 617.04,247.09 617.23,245 617.49,242.93 617.83,240.89 618.24,238.88 618.72,236.91 619.27,235 619.89,233.15 620.57,231.37 621.31,229.66 622.12,228.04 622.97,226.5 623.88,225.07 624.83,223.74 625.83,222.51 626.86,221.41 627.93,220.42 629.03,219.55 630.15,218.81 631.29,218.2 632.45,217.72 633.62,217.38 634.79,217.18 635.97,217.11 641.6,216.05 650.24,214.6" fill="none" stroke="#b5b5b5" stroke-width="0.75" stroke-linejoin="round" stroke-linecap="round" stroke-linecap="butt"/>
<path d="M560.79,350.4 570.96,349.58 581.13,348.76 591.3,347.94 601.47,347.13 611.64,346.31 612.46,346.23 613.25,345.99 613.99,345.6 614.64,345.08 615.19,344.44 615.6,343.72 615.87,342.93 615.98,342.12 619.43,244.48 619.6,242.57 619.84,240.66 620.15,238.79 620.53,236.94 620.98,235.14 621.48,233.38 622.05,231.68 622.68,230.05 623.36,228.48 624.1,226.99 624.88,225.58 625.72,224.27 626.6,223.04 627.51,221.92 628.46,220.9 629.45,220 630.46,219.2 631.49,218.52 632.54,217.96 633.61,217.52 634.69,217.21 635.77,217.02 636.85,216.96 642.04,216.01 650.24,214.66" fill="none" stroke="#b1b1b1" stroke-width="0.75" stroke-linejoin="round" stroke-linecap="round" stroke-linecap="butt"/>
<path d="M560.78,350.58 571.38,349.72 581.98,348.86 592.59,348 603.19,347.14 613.79,346.28 614.64,346.2 615.46,345.95 616.23,345.55 616.9,345.01 617.47,344.35 617.89,343.6 618.17,342.79 618.28,341.94 621.82,241.86 621.97,240.12 622.2,238.38 622.48,236.68 622.82,235 623.23,233.36 623.69,231.76 624.21,230.21 624.78,228.72 625.41,227.3 626.08,225.94 626.8,224.66 627.56,223.46 628.36,222.35 629.2,221.33 630.07,220.4 630.97,219.57 631.89,218.85 632.84,218.23 633.8,217.72 634.77,217.32 635.75,217.04 636.74,216.87 637.73,216.81 642.47,215.97 650.23,214.72" fill="none" stroke="#acacac" stroke-width="0.75" stroke-linejoin="round" stroke-linecap="round" stroke-linecap="butt"/>
<path d="M560.77,350.77 571.82,349.87 582.87,348.96 593.92,348.06 604.97,347.15 616.02,346.25 616.91,346.16 617.76,345.9 618.55,345.49 619.26,344.93 619.84,344.24 620.29,343.46 620.57,342.62 620.69,341.74 624.31,239.12 624.45,237.55 624.65,236 624.91,234.47 625.22,232.96 625.58,231.49 626,230.06 626.47,228.67 626.98,227.34 627.54,226.06 628.15,224.84 628.8,223.69 629.48,222.62 630.21,221.62 630.96,220.7 631.74,219.87 632.55,219.13 633.38,218.48 634.24,217.93 635.1,217.47 635.98,217.12 636.87,216.86 637.76,216.71 638.65,216.65 642.93,215.92 650.23,214.79" fill="none" stroke="#a8a8a8" stroke-width="0.75" stroke-linejoin="round" stroke-linecap="round" stroke-linecap="butt"/>
<path d="M560.77,350.96 572.24,350.01 583.71,349.07 595.19,348.12 606.66,347.17 618.14,346.22 619.06,346.13 619.95,345.86 620.77,345.43 621.51,344.85 622.11,344.14 622.58,343.32 622.87,342.44 623,341.53 626.7,236.47 626.83,235.08 627,233.7 627.23,232.34 627.51,231 627.84,229.69 628.21,228.42 628.63,227.19 629.09,226 629.59,224.86 630.13,223.78 630.71,222.76 631.33,221.81 631.97,220.92 632.65,220.11 633.35,219.37 634.07,218.71 634.82,218.13 635.58,217.64 636.35,217.23 637.14,216.92 637.93,216.69 638.73,216.55 639.52,216.51 643.37,215.88 650.23,214.86" fill="none" stroke="#a3a3a3" stroke-width="0.75" stroke-linejoin="round" stroke-linecap="round" stroke-linecap="butt"/>
<path d="M560.76,351.16 572.65,350.17 584.55,349.17 596.44,348.18 608.33,347.19 620.23,346.2 621.19,346.11 622.12,345.83 622.98,345.37 623.75,344.76 624.38,344.02 624.87,343.17 625.18,342.25 625.3,341.29 629.09,233.81 629.2,232.6 629.36,231.39 629.56,230.2 629.8,229.03 630.09,227.89 630.42,226.77 630.79,225.7 631.19,224.66 631.64,223.67 632.12,222.72 632.63,221.83 633.17,220.99 633.74,220.22 634.33,219.51 634.95,218.86 635.59,218.28 636.25,217.78 636.92,217.35 637.61,216.99 638.3,216.72 639,216.52 639.7,216.4 640.4,216.36 643.81,215.85 650.23,214.94" fill="none" stroke="#9d9d9d" stroke-width="0.75" stroke-linejoin="round" stroke-linecap="round" stroke-linecap="butt"/>
<path d="M560.75,351.35 573.08,350.32 585.41,349.28 597.74,348.25 610.07,347.21 622.39,346.17 623.4,346.08 624.37,345.78 625.28,345.31 626.08,344.67 626.75,343.89 627.25,343 627.58,342.04 627.71,341.03 631.58,231.06 631.68,230.02 631.81,228.99 631.99,227.98 632.2,226.99 632.44,226.01 632.73,225.07 633.04,224.15 633.39,223.27 633.77,222.42 634.19,221.62 634.63,220.86 635.09,220.15 635.58,219.49 636.09,218.88 636.63,218.33 637.18,217.84 637.74,217.41 638.32,217.05 638.91,216.74 639.51,216.51 640.11,216.34 640.72,216.24 641.32,216.2 644.27,215.81 650.22,215.02" fill="none" stroke="#989898" stroke-width="0.75" stroke-linejoin="round" stroke-linecap="round" stroke-linecap="butt"/>
<path d="M560.75,351.56 573.48,350.48 586.22,349.4 598.96,348.32 611.7,347.24 624.44,346.16 625.49,346.06 626.52,345.75 627.47,345.25 628.31,344.58 629.01,343.76 629.54,342.83 629.88,341.82 630.02,340.76 633.97,228.42 634.05,227.55 634.17,226.7 634.31,225.86 634.49,225.03 634.7,224.22 634.94,223.43 635.2,222.67 635.5,221.93 635.82,221.23 636.17,220.56 636.54,219.93 636.93,219.34 637.35,218.79 637.78,218.28 638.23,217.83 638.7,217.42 639.18,217.06 639.66,216.76 640.16,216.5 640.67,216.31 641.18,216.17 641.69,216.08 642.2,216.05 644.7,215.78 650.22,215.1" fill="none" stroke="#929292" stroke-width="0.75" stroke-linejoin="round" stroke-linecap="round" stroke-linecap="butt"/>
<path d="M560.74,351.77 573.88,350.65 587.02,349.52 600.17,348.4 613.31,347.28 626.45,346.15 627.56,346.04 628.64,345.72 629.64,345.19 630.53,344.49 631.27,343.63 631.82,342.64 632.19,341.58 632.33,340.47 636.36,225.81 636.43,225.12 636.52,224.43 636.64,223.76 636.78,223.09 636.95,222.44 637.15,221.81 637.36,221.2 637.6,220.61 637.87,220.05 638.15,219.51 638.46,219.01 638.78,218.53 639.12,218.09 639.47,217.69 639.84,217.32 640.22,217 640.61,216.71 641.01,216.47 641.41,216.27 641.83,216.11 642.24,216 642.66,215.93 643.08,215.91 645.14,215.75 650.22,215.19" fill="none" stroke="#8b8b8b" stroke-width="0.75" stroke-linejoin="round" stroke-linecap="round" stroke-linecap="butt"/>
<path d="M560.73,351.98 574.19,350.82 587.65,349.66 601.12,348.5 614.58,347.34 628.04,346.18 629.21,346.07 630.35,345.73 631.4,345.17 632.34,344.43 633.12,343.52 633.71,342.48 634.09,341.36 634.24,340.19 638.33,223.65 638.39,223.1 638.46,222.56 638.56,222.02 638.67,221.49 638.81,220.98 638.97,220.48 639.15,219.99 639.34,219.52 639.56,219.07 639.79,218.65 640.04,218.25 640.3,217.87 640.57,217.52 640.86,217.2 641.16,216.91 641.47,216.65 641.79,216.42 642.12,216.23 642.45,216.07 642.78,215.94 643.12,215.85 643.46,215.8 643.81,215.78 645.5,215.73 650.22,215.28" fill="none" stroke="#848484" stroke-width="0.75" stroke-linejoin="round" stroke-linecap="round" stroke-linecap="butt"/>
<path d="M560.72,352.21 574.44,351.02 588.15,349.83 601.87,348.64 615.58,347.44 629.3,346.25 630.54,346.13 631.74,345.77 632.85,345.19 633.84,344.4 634.66,343.44 635.29,342.34 635.69,341.15 635.85,339.92 639.99,221.83 640.04,221.41 640.1,220.98 640.17,220.56 640.27,220.15 640.38,219.74 640.51,219.35 640.65,218.97 640.81,218.61 640.98,218.26 641.17,217.92 641.37,217.61 641.58,217.31 641.8,217.04 642.04,216.79 642.28,216.56 642.53,216.36 642.79,216.18 643.05,216.03 643.32,215.9 643.59,215.81 643.86,215.74 644.14,215.69 644.42,215.68 645.81,215.73 650.21,215.38" fill="none" stroke="#7d7d7d" stroke-width="0.75" stroke-linejoin="round" stroke-linecap="round" stroke-linecap="butt"/>
<path d="M560.71,352.45 574.6,351.23 588.48,350.02 602.36,348.8 616.24,347.58 630.12,346.37 631.44,346.24 632.71,345.86 633.89,345.24 634.93,344.4 635.8,343.39 636.46,342.23 636.89,340.97 637.06,339.66 641.24,220.49 641.27,220.15 641.32,219.81 641.39,219.48 641.47,219.15 641.56,218.83 641.66,218.52 641.78,218.22 641.91,217.92 642.06,217.65 642.21,217.38 642.38,217.13 642.55,216.9 642.74,216.68 642.93,216.48 643.13,216.3 643.34,216.14 643.55,216 643.77,215.87 643.99,215.78 644.22,215.7 644.45,215.64 644.67,215.61 644.9,215.6 646.05,215.74 650.21,215.48" fill="none" stroke="#767676" stroke-width="0.75" stroke-linejoin="round" stroke-linecap="round" stroke-linecap="butt"/>
<path d="M560.71,352.7 574.69,351.47 588.67,350.23 602.65,349 616.64,347.76 630.62,346.53 632.01,346.39 633.36,345.99 634.61,345.33 635.71,344.45 636.63,343.37 637.33,342.14 637.79,340.81 637.97,339.42 642.15,220.07 642.19,219.75 642.24,219.43 642.3,219.12 642.38,218.81 642.47,218.5 642.57,218.21 642.69,217.92 642.82,217.65 642.96,217.38 643.12,217.13 643.28,216.89 643.46,216.67 643.64,216.47 643.84,216.28 644.04,216.11 644.24,215.95 644.46,215.82 644.68,215.71 644.9,215.61 645.12,215.54 645.35,215.49 645.58,215.45 645.81,215.44 646.5,215.71 650.2,215.58" fill="none" stroke="#6e6e6e" stroke-width="0.75" stroke-linejoin="round" stroke-linecap="round" stroke-linecap="butt"/>
<path d="M560.7,352.98 574.73,351.73 588.77,350.48 602.81,349.23 616.84,347.98 630.88,346.73 632.35,346.59 633.78,346.16 635.11,345.46 636.28,344.53 637.26,343.39 638,342.08 638.48,340.67 638.68,339.2 642.87,219.64 642.9,219.33 642.95,219.04 643.01,218.74 643.09,218.45 643.18,218.17 643.28,217.9 643.4,217.63 643.53,217.37 643.67,217.13 643.83,216.9 643.99,216.68 644.17,216.47 644.35,216.28 644.54,216.1 644.74,215.94 644.95,215.8 645.16,215.68 645.38,215.57 645.6,215.48 645.83,215.41 646.06,215.36 646.28,215.33 646.51,215.32 646.85,215.71 650.2,215.69" fill="none" stroke="#666666" stroke-width="0.75" stroke-linejoin="round" stroke-linecap="round" stroke-linecap="butt"/>
<path d="M560.68,353.36 574.73,352.1 588.77,350.84 602.81,349.58 616.86,348.32 630.9,347.06 632.47,346.91 633.99,346.45 635.39,345.71 636.64,344.72 637.68,343.5 638.47,342.12 638.97,340.62 639.18,339.06 643.39,219.17 643.42,218.89 643.47,218.62 643.53,218.35 643.6,218.09 643.69,217.83 643.8,217.58 643.91,217.34 644.04,217.11 644.18,216.88 644.34,216.67 644.5,216.47 644.67,216.28 644.86,216.11 645.05,215.95 645.25,215.8 645.45,215.67 645.67,215.56 645.88,215.46 646.11,215.38 646.33,215.32 646.56,215.28 646.79,215.25 647.02,215.24 647.1,215.72 650.2,215.8" fill="none" stroke="#5d5d5d" stroke-width="0.75" stroke-linejoin="round" stroke-linecap="round" stroke-linecap="butt"/>
</g>
<g clip-path="url(#cfl)">
<path d="M482.76,318.86 482.85,318.1 482.94,317.34 483.02,316.58 483.11,315.82 483.19,315.06 483.28,314.3 483.36,313.54 483.44,312.78 483.53,312.02 483.61,311.26 483.69,310.5 483.77,309.73 483.85,308.97 483.93,308.21 484.01,307.44 484.09,306.68 484.17,305.92 484.25,305.15 484.33,304.39 484.41,303.62 484.49,302.86 484.57,302.09 484.65,301.33 484.73,300.56 484.81,299.79 484.89,299.02 484.97,298.26 485.06,297.49 485.14,296.72 485.23,295.95 485.31,295.18 485.4,294.42 485.49,293.65 485.57,292.88 485.66,292.11 485.76,291.34 485.85,290.57 485.94,289.79 486.04,289.02 486.13,288.25 486.23,287.48 486.33,286.71 486.44,285.94 486.54,285.16 486.65,284.39 486.75,283.62 486.86,282.85 486.98,282.07 487.09,281.3 487.21,280.53 487.33,279.75 487.45,278.98 487.57,278.2 487.7,277.43 487.83,276.65 487.96,275.88 488.09,275.1 488.23,274.33 488.37,273.55 488.52,272.78 488.66,272 488.81,271.23 488.97,270.45 489.12,269.67 489.28,268.9 489.45,268.12 489.62,267.34 489.79,266.57 489.96,265.79 490.14,265.02 490.32,264.24 490.51,263.46 490.7,262.69 490.89,261.91 491.09,261.14 491.29,260.36 491.5,259.59 491.71,258.81 491.93,258.04 492.15,257.27 492.38,256.5 492.61,255.73 492.84,254.96 493.08,254.19 493.32,253.42 493.57,252.65 493.83,251.88 494.09,251.12 494.35,250.36 494.62,249.59 494.9,248.83 495.18,248.07 495.46,247.31 495.75,246.56 496.05,245.8 496.35,245.05 496.66,244.3 496.98,243.55 497.3,242.8 497.63,242.05 497.96,241.31 498.3,240.56 498.64,239.82 498.99,239.09 499.38,238.37 499.87,237.7 500.37,237.03 500.87,236.36 501.37,235.7 501.89,235.04 502.41,234.38 502.93,233.73 503.47,233.09 504.01,232.45 504.56,231.82 505.12,231.19 505.69,230.57 506.26,229.97 506.85,229.37 507.44,228.78 508.04,228.2 508.65,227.63 509.27,227.07 509.9,226.53 510.54,225.99 511.19,225.48 511.84,224.97 512.51,224.48 513.19,224.01 513.87,223.55 514.55,223.11 515.25,222.68 515.95,222.27 516.65,221.87 517.36,221.48 518.07,221.11 518.79,220.75 519.51,220.39 520.23,220.06 520.96,219.73 521.69,219.41 522.42,219.1 523.16,218.79 523.9,218.5 524.64,218.22 525.38,217.94 526.12,217.67 526.87,217.41 527.61,217.15 528.36,216.9 529.1,216.66 529.85,216.43 530.6,216.19 531.34,215.97 532.09,215.75 532.84,215.54 533.59,215.33 534.33,215.13 535.08,214.94 535.83,214.75 536.58,214.57 537.32,214.39 538.07,214.23 538.82,214.06 539.57,213.91 540.32,213.76 541.07,213.61 541.82,213.48 542.57,213.34 543.32,213.21 544.07,213.09 544.82,212.96 545.57,212.81 546.32,212.67 547.06,212.53 547.81,212.4 548.57,212.27 549.32,212.14 550.07,212.01 550.82,211.89 551.58,211.77 552.33,211.64 553.09,211.52 553.84,211.4 554.6,211.28 555.36,211.16 556.11,211.04 556.87,210.91 557.63,210.79 558.39,210.66 559.15,210.53 559.91,210.4 560.67,210.26 561.43,210.12 562.19,209.98 562.95,209.83 563.7,209.68 564.46,209.52 565.22,209.36" fill="none" stroke="#ececec" stroke-width="1.1" stroke-linejoin="round" stroke-linecap="round" />
<path d="M483.95,319 484.04,318.24 484.13,317.48 484.21,316.72 484.3,315.96 484.39,315.19 484.47,314.43 484.55,313.67 484.64,312.91 484.72,312.15 484.8,311.39 484.88,310.62 484.96,309.86 485.04,309.1 485.12,308.33 485.2,307.57 485.28,306.81 485.36,306.04 485.44,305.28 485.52,304.51 485.6,303.75 485.68,302.98 485.76,302.22 485.84,301.45 485.92,300.68 486,299.92 486.08,299.15 486.17,298.39 486.25,297.62 486.33,296.85 486.42,296.09 486.5,295.32 486.59,294.55 486.68,293.78 486.77,293.01 486.86,292.25 486.95,291.48 487.04,290.71 487.13,289.94 487.23,289.17 487.32,288.4 487.42,287.63 487.52,286.87 487.62,286.1 487.73,285.33 487.83,284.56 487.94,283.79 488.05,283.02 488.16,282.25 488.28,281.48 488.39,280.71 488.51,279.94 488.63,279.17 488.76,278.4 488.88,277.62 489.01,276.85 489.14,276.08 489.28,275.31 489.41,274.54 489.55,273.77 489.7,273 489.84,272.23 489.99,271.46 490.14,270.69 490.3,269.91 490.46,269.14 490.62,268.37 490.79,267.6 490.96,266.83 491.13,266.06 491.31,265.29 491.49,264.52 491.67,263.75 491.86,262.98 492.06,262.21 492.25,261.44 492.45,260.67 492.66,259.9 492.87,259.13 493.08,258.37 493.3,257.6 493.53,256.84 493.75,256.07 493.99,255.31 494.22,254.55 494.47,253.78 494.71,253.02 494.96,252.27 495.22,251.51 495.48,250.75 495.75,250 496.02,249.24 496.3,248.49 496.58,247.74 496.87,246.99 497.17,246.25 497.47,245.5 497.77,244.76 498.08,244.01 498.4,243.27 498.72,242.54 499.05,241.8 499.39,241.07 499.73,240.34 500.08,239.61 500.45,238.89 500.91,238.22 501.37,237.54 501.84,236.87 502.32,236.21 502.8,235.54 503.29,234.89 503.79,234.23 504.29,233.58 504.8,232.94 505.32,232.3 505.85,231.67 506.39,231.05 506.93,230.44 507.49,229.84 508.05,229.24 508.62,228.66 509.21,228.09 509.8,227.52 510.4,226.97 511.01,226.44 511.63,225.91 512.26,225.4 512.9,224.9 513.55,224.42 514.21,223.96 514.88,223.51 515.55,223.07 516.23,222.65 516.91,222.24 517.6,221.84 518.3,221.46 519,221.08 519.7,220.72 520.41,220.37 521.13,220.03 521.85,219.7 522.57,219.38 523.3,219.06 524.02,218.76 524.75,218.46 525.49,218.18 526.22,217.89 526.96,217.62 527.7,217.35 528.43,217.09 529.17,216.84 529.91,216.59 530.66,216.35 531.4,216.12 532.14,215.89 532.88,215.67 533.63,215.45 534.37,215.24 535.11,215.04 535.86,214.84 536.6,214.65 537.35,214.46 538.09,214.29 538.84,214.12 539.58,213.95 540.33,213.8 541.08,213.65 541.82,213.5 542.57,213.36 543.32,213.22 544.07,213.09 544.82,212.96 545.57,212.81 546.32,212.67 547.06,212.53 547.81,212.4 548.57,212.27 549.32,212.14 550.07,212.01 550.82,211.89 551.58,211.77 552.33,211.64 553.09,211.52 553.84,211.4 554.6,211.28 555.36,211.16 556.11,211.04 556.87,210.91 557.63,210.79 558.39,210.66 559.15,210.53 559.91,210.4 560.67,210.26 561.43,210.12 562.19,209.98 562.95,209.83 563.7,209.68 564.46,209.52 565.22,209.36" fill="none" stroke="#e4e4e4" stroke-width="1.1" stroke-linejoin="round" stroke-linecap="round" />
<path d="M485.14,319.14 485.23,318.38 485.32,317.61 485.41,316.85 485.49,316.09 485.58,315.33 485.66,314.56 485.75,313.8 485.83,313.04 485.91,312.28 485.99,311.51 486.08,310.75 486.16,309.99 486.24,309.22 486.32,308.46 486.4,307.69 486.48,306.93 486.56,306.16 486.64,305.4 486.71,304.64 486.79,303.87 486.87,303.11 486.95,302.34 487.03,301.58 487.11,300.81 487.2,300.05 487.28,299.28 487.36,298.51 487.44,297.75 487.53,296.98 487.61,296.22 487.7,295.45 487.78,294.69 487.87,293.92 487.96,293.15 488.05,292.39 488.14,291.62 488.23,290.85 488.32,290.09 488.42,289.32 488.52,288.55 488.61,287.79 488.71,287.02 488.81,286.25 488.92,285.49 489.02,284.72 489.13,283.95 489.24,283.19 489.35,282.42 489.46,281.65 489.58,280.89 489.7,280.12 489.82,279.35 489.94,278.59 490.07,277.82 490.19,277.05 490.32,276.29 490.46,275.52 490.59,274.75 490.73,273.99 490.88,273.22 491.02,272.45 491.17,271.69 491.32,270.92 491.48,270.15 491.63,269.39 491.8,268.62 491.96,267.86 492.13,267.09 492.3,266.32 492.48,265.56 492.66,264.79 492.84,264.03 493.03,263.26 493.22,262.5 493.42,261.74 493.61,260.98 493.82,260.21 494.03,259.45 494.24,258.69 494.46,257.93 494.68,257.17 494.9,256.42 495.13,255.66 495.37,254.91 495.61,254.15 495.85,253.4 496.1,252.65 496.36,251.9 496.62,251.15 496.88,250.4 497.15,249.66 497.43,248.91 497.71,248.17 497.99,247.43 498.28,246.69 498.58,245.95 498.88,245.22 499.19,244.48 499.5,243.75 499.82,243.02 500.15,242.3 500.48,241.57 500.81,240.85 501.16,240.13 501.52,239.42 501.95,238.74 502.38,238.06 502.82,237.39 503.27,236.72 503.72,236.05 504.18,235.39 504.64,234.73 505.11,234.08 505.6,233.43 506.09,232.79 506.58,232.16 507.09,231.53 507.61,230.91 508.13,230.31 508.66,229.71 509.21,229.12 509.76,228.54 510.32,227.97 510.9,227.42 511.48,226.88 512.07,226.35 512.68,225.83 513.3,225.33 513.92,224.84 514.56,224.36 515.2,223.91 515.85,223.46 516.51,223.03 517.17,222.61 517.85,222.2 518.53,221.81 519.21,221.42 519.9,221.05 520.6,220.69 521.3,220.33 522.01,219.99 522.72,219.66 523.43,219.33 524.15,219.02 524.87,218.71 525.6,218.41 526.32,218.12 527.05,217.83 527.78,217.56 528.51,217.28 529.25,217.02 529.98,216.76 530.72,216.51 531.45,216.26 532.19,216.03 532.93,215.79 533.67,215.57 534.4,215.35 535.14,215.13 535.88,214.93 536.62,214.73 537.37,214.54 538.11,214.35 538.85,214.17 539.59,214 540.34,213.84 541.08,213.68 541.83,213.52 542.58,213.38 543.32,213.23 544.07,213.1 544.82,212.96 545.57,212.81 546.32,212.67 547.06,212.53 547.81,212.4 548.57,212.27 549.32,212.14 550.07,212.01 550.82,211.89 551.58,211.77 552.33,211.64 553.09,211.52 553.84,211.4 554.6,211.28 555.36,211.16 556.11,211.04 556.87,210.91 557.63,210.79 558.39,210.66 559.15,210.53 559.91,210.4 560.67,210.26 561.43,210.12 562.19,209.98 562.95,209.83 563.7,209.68 564.46,209.52 565.22,209.36" fill="none" stroke="#dcdcdc" stroke-width="1.1" stroke-linejoin="round" stroke-linecap="round" />
<path d="M486.33,319.28 486.42,318.52 486.51,317.75 486.6,316.99 486.69,316.22 486.77,315.46 486.86,314.7 486.94,313.93 487.02,313.17 487.11,312.4 487.19,311.64 487.27,310.88 487.35,310.11 487.43,309.35 487.51,308.58 487.59,307.82 487.67,307.05 487.75,306.29 487.83,305.52 487.91,304.76 487.99,304 488.07,303.23 488.15,302.47 488.23,301.7 488.31,300.94 488.39,300.17 488.47,299.41 488.55,298.64 488.64,297.88 488.72,297.11 488.8,296.35 488.89,295.58 488.97,294.82 489.06,294.06 489.15,293.29 489.24,292.53 489.33,291.76 489.42,291 489.51,290.23 489.61,289.47 489.71,288.71 489.8,287.94 489.9,287.18 490,286.41 490.11,285.65 490.21,284.89 490.32,284.12 490.43,283.36 490.54,282.59 490.65,281.83 490.77,281.07 490.88,280.3 491,279.54 491.12,278.78 491.25,278.02 491.38,277.25 491.51,276.49 491.64,275.73 491.78,274.97 491.91,274.2 492.06,273.44 492.2,272.68 492.35,271.92 492.5,271.16 492.65,270.39 492.81,269.63 492.97,268.87 493.13,268.11 493.3,267.35 493.47,266.59 493.65,265.83 493.82,265.07 494.01,264.31 494.19,263.55 494.38,262.8 494.58,262.04 494.78,261.28 494.98,260.53 495.18,259.77 495.39,259.02 495.61,258.27 495.83,257.51 496.05,256.76 496.28,256.01 496.51,255.27 496.75,254.52 496.99,253.77 497.24,253.03 497.49,252.29 497.75,251.55 498.01,250.81 498.28,250.07 498.55,249.33 498.83,248.6 499.11,247.86 499.4,247.13 499.69,246.4 499.99,245.68 500.29,244.95 500.6,244.23 500.92,243.51 501.24,242.79 501.57,242.07 501.9,241.36 502.24,240.65 502.59,239.94 502.99,239.26 503.39,238.58 503.8,237.9 504.21,237.23 504.63,236.55 505.06,235.89 505.5,235.23 505.94,234.57 506.39,233.92 506.85,233.27 507.32,232.64 507.79,232.01 508.28,231.39 508.77,230.78 509.28,230.17 509.79,229.58 510.31,229 510.85,228.43 511.39,227.87 511.95,227.32 512.52,226.78 513.1,226.26 513.69,225.75 514.29,225.25 514.9,224.77 515.52,224.3 516.15,223.85 516.79,223.41 517.44,222.98 518.09,222.56 518.75,222.15 519.42,221.76 520.1,221.38 520.78,221 521.47,220.64 522.17,220.28 522.87,219.94 523.57,219.6 524.28,219.27 524.99,218.96 525.7,218.64 526.42,218.34 527.14,218.04 527.87,217.76 528.59,217.47 529.32,217.2 530.05,216.93 530.78,216.67 531.51,216.41 532.24,216.16 532.97,215.92 533.71,215.68 534.44,215.45 535.17,215.23 535.91,215.02 536.65,214.81 537.39,214.61 538.13,214.41 538.87,214.23 539.61,214.05 540.35,213.88 541.09,213.71 541.84,213.55 542.58,213.39 543.33,213.25 544.07,213.1 544.82,212.96 545.57,212.81 546.32,212.67 547.06,212.53 547.81,212.4 548.57,212.27 549.32,212.14 550.07,212.01 550.82,211.89 551.58,211.77 552.33,211.64 553.09,211.52 553.84,211.4 554.6,211.28 555.36,211.16 556.11,211.04 556.87,210.91 557.63,210.79 558.39,210.66 559.15,210.53 559.91,210.4 560.67,210.26 561.43,210.12 562.19,209.98 562.95,209.83 563.7,209.68 564.46,209.52 565.22,209.36" fill="none" stroke="#d4d4d4" stroke-width="1.1" stroke-linejoin="round" stroke-linecap="round" />
<path d="M487.33,319.4 487.42,318.63 487.51,317.87 487.59,317.1 487.68,316.34 487.77,315.57 487.85,314.81 487.93,314.04 488.02,313.28 488.1,312.51 488.18,311.75 488.26,310.98 488.34,310.22 488.42,309.45 488.51,308.69 488.58,307.92 488.66,307.16 488.74,306.39 488.82,305.63 488.9,304.86 488.98,304.1 489.06,303.33 489.14,302.57 489.22,301.81 489.3,301.04 489.38,300.28 489.47,299.51 489.55,298.75 489.63,297.99 489.71,297.22 489.8,296.46 489.88,295.7 489.97,294.93 490.06,294.17 490.14,293.41 490.23,292.64 490.32,291.88 490.41,291.12 490.51,290.36 490.6,289.59 490.7,288.83 490.8,288.07 490.89,287.31 490.99,286.55 491.1,285.78 491.2,285.02 491.31,284.26 491.42,283.5 491.53,282.74 491.64,281.98 491.75,281.22 491.87,280.46 491.99,279.7 492.11,278.94 492.24,278.18 492.36,277.42 492.49,276.66 492.62,275.9 492.76,275.14 492.9,274.38 493.04,273.63 493.18,272.87 493.33,272.11 493.48,271.35 493.63,270.59 493.79,269.84 493.95,269.08 494.11,268.32 494.28,267.57 494.45,266.81 494.62,266.06 494.8,265.3 494.98,264.55 495.16,263.79 495.35,263.04 495.55,262.29 495.74,261.54 495.94,260.79 496.15,260.04 496.36,259.29 496.57,258.54 496.79,257.8 497.01,257.05 497.24,256.31 497.47,255.57 497.7,254.83 497.94,254.09 498.19,253.35 498.44,252.61 498.69,251.88 498.95,251.14 499.22,250.41 499.49,249.68 499.76,248.95 500.04,248.23 500.33,247.5 500.62,246.78 500.91,246.06 501.21,245.34 501.52,244.63 501.83,243.91 502.15,243.2 502.47,242.49 502.8,241.79 503.14,241.08 503.49,240.38 503.86,239.69 504.23,239.01 504.61,238.33 505,237.65 505.4,236.97 505.8,236.3 506.21,235.64 506.62,234.98 507.05,234.33 507.48,233.68 507.92,233.04 508.38,232.41 508.84,231.78 509.31,231.17 509.79,230.56 510.28,229.97 510.78,229.38 511.29,228.8 511.81,228.24 512.34,227.69 512.89,227.14 513.45,226.62 514.01,226.1 514.6,225.6 515.19,225.11 515.79,224.64 516.4,224.18 517.02,223.73 517.66,223.29 518.3,222.86 518.95,222.45 519.6,222.04 520.27,221.65 520.94,221.26 521.62,220.89 522.3,220.53 522.99,220.17 523.68,219.83 524.38,219.49 525.09,219.16 525.8,218.84 526.51,218.53 527.22,218.22 527.94,217.92 528.66,217.63 529.38,217.35 530.1,217.07 530.83,216.8 531.55,216.53 532.28,216.28 533.01,216.02 533.74,215.78 534.47,215.54 535.2,215.31 535.93,215.09 536.67,214.87 537.4,214.67 538.14,214.47 538.88,214.27 539.62,214.09 540.36,213.91 541.1,213.74 541.84,213.57 542.58,213.41 543.33,213.25 544.07,213.11 544.82,212.96 545.57,212.81 546.32,212.67 547.06,212.53 547.81,212.4 548.57,212.27 549.32,212.14 550.07,212.01 550.82,211.89 551.58,211.77 552.33,211.64 553.09,211.52 553.84,211.4 554.6,211.28 555.36,211.16 556.11,211.04 556.87,210.91 557.63,210.79 558.39,210.66 559.15,210.53 559.91,210.4 560.67,210.26 561.43,210.12 562.19,209.98 562.95,209.83 563.7,209.68 564.46,209.52 565.22,209.36" fill="none" stroke="#cccccc" stroke-width="1.1" stroke-linejoin="round" stroke-linecap="round" />
</g>
<path d="M488.3,319.5C488.43,318.32 488.75,315.42 489.1,312.4C489.45,309.38 490,305.05 490.4,301.4C490.8,297.75 491.07,294.4 491.5,290.5C491.93,286.6 492.45,281.4 493,278C493.55,274.6 494.07,273.15 494.8,270.1C495.53,267.05 496.45,262.98 497.4,259.7C498.35,256.42 499.28,253.68 500.5,250.4C501.72,247.12 503.32,242.92 504.7,240C506.08,237.08 507.25,235.13 508.8,232.9C510.35,230.67 512.27,228.33 514,226.6C515.73,224.87 517.47,223.67 519.2,222.5C520.93,221.33 522.93,220.25 524.4,219.6C525.87,218.95 526.62,219.08 528,218.6C529.38,218.12 531.02,217.47 532.7,216.7C534.38,215.93 536.28,214.62 538.1,214C539.92,213.38 541.38,213.33 543.6,213C545.82,212.67 549,212.37 551.4,212C553.8,211.63 555.7,211.25 558,210.8C560.3,210.35 564,209.55 565.2,209.3" fill="none" stroke="#3cb4f0" stroke-width="1.5" stroke-linejoin="round" stroke-linecap="round" />
<path d="M569.9,354.6C570.15,352.65 570.83,346.72 571.4,342.9C571.97,339.08 572.68,335.43 573.3,331.7C573.92,327.97 574.48,323.92 575.1,320.5C575.72,317.08 576.37,313.68 577,311.2C577.63,308.72 578.12,307.47 578.9,305.6C579.68,303.73 580.77,302.03 581.7,300C582.63,297.97 583.57,295.9 584.5,293.4C585.43,290.9 586.72,287.12 587.3,285C587.88,282.88 587.33,283.38 588,280.7C588.67,278.02 590.18,272.7 591.3,268.9C592.42,265.1 593.57,261.55 594.7,257.9C595.83,254.25 596.83,250.37 598.1,247C599.37,243.63 600.75,240.67 602.3,237.7C603.85,234.73 606.07,231.32 607.4,229.2C608.73,227.08 609.25,226.17 610.3,225C611.35,223.83 612.22,223.03 613.7,222.2C615.18,221.37 617.38,220.75 619.2,220C621.02,219.25 622.78,218.3 624.6,217.7C626.42,217.1 628.28,216.9 630.1,216.4C631.92,215.9 633.38,215.22 635.5,214.7C637.62,214.18 641.58,213.53 642.8,213.3" fill="none" stroke="#1414e0" stroke-width="1.5" stroke-linejoin="round" stroke-linecap="round" />
<rect x="488" y="201" width="155.5" height="154.5" fill="none" stroke="#333" stroke-width="1"/>
<line x1="565.5" y1="201" x2="565.5" y2="355.5" stroke="#333" stroke-width="1" />
<line x1="488" y1="217.5" x2="491" y2="217.5" stroke="#333" stroke-width="1" />
<g transform="translate(486.4,220.8) scale(0.93,1)"><text x="0" y="0" font-size="10" text-anchor="end" fill="#222">0.6</text></g>
<line x1="488" y1="238.67" x2="491" y2="238.67" stroke="#333" stroke-width="1" />
<g transform="translate(486.4,241.97) scale(0.93,1)"><text x="0" y="0" font-size="10" text-anchor="end" fill="#222">0.4</text></g>
<line x1="488" y1="259.83" x2="491" y2="259.83" stroke="#333" stroke-width="1" />
<g transform="translate(486.4,263.13) scale(0.93,1)"><text x="0" y="0" font-size="10" text-anchor="end" fill="#222">0.2</text></g>
<line x1="488" y1="281" x2="491" y2="281" stroke="#333" stroke-width="1" />
<g transform="translate(486.4,284.3) scale(0.93,1)"><text x="0" y="0" font-size="10" text-anchor="end" fill="#222">0.0</text></g>
<line x1="488" y1="302.17" x2="491" y2="302.17" stroke="#333" stroke-width="1" />
<g transform="translate(486.4,305.47) scale(0.93,1)"><text x="0" y="0" font-size="10" text-anchor="end" fill="#222">-0.2</text></g>
<line x1="488" y1="323.33" x2="491" y2="323.33" stroke="#333" stroke-width="1" />
<g transform="translate(486.4,326.63) scale(0.93,1)"><text x="0" y="0" font-size="10" text-anchor="end" fill="#222">-0.4</text></g>
<line x1="488" y1="344.5" x2="491" y2="344.5" stroke="#333" stroke-width="1" />
<g transform="translate(486.4,347.8) scale(0.93,1)"><text x="0" y="0" font-size="10" text-anchor="end" fill="#222">-0.6</text></g>
<line x1="565.5" y1="217.5" x2="568.5" y2="217.5" stroke="#333" stroke-width="1" />
<line x1="565.5" y1="238.67" x2="568.5" y2="238.67" stroke="#333" stroke-width="1" />
<line x1="565.5" y1="259.83" x2="568.5" y2="259.83" stroke="#333" stroke-width="1" />
<line x1="565.5" y1="281" x2="568.5" y2="281" stroke="#333" stroke-width="1" />
<line x1="565.5" y1="302.17" x2="568.5" y2="302.17" stroke="#333" stroke-width="1" />
<line x1="565.5" y1="323.33" x2="568.5" y2="323.33" stroke="#333" stroke-width="1" />
<line x1="565.5" y1="344.5" x2="568.5" y2="344.5" stroke="#333" stroke-width="1" />
<line x1="508" y1="355.5" x2="508" y2="352.5" stroke="#333" stroke-width="1" />
<g transform="translate(508,365.7) scale(0.93,1)"><text x="0" y="0" font-size="10" text-anchor="middle" fill="#222">-30</text></g>
<line x1="527.8" y1="355.5" x2="527.8" y2="352.5" stroke="#333" stroke-width="1" />
<g transform="translate(527.8,365.7) scale(0.93,1)"><text x="0" y="0" font-size="10" text-anchor="middle" fill="#222">-20</text></g>
<line x1="547.5" y1="355.5" x2="547.5" y2="352.5" stroke="#333" stroke-width="1" />
<g transform="translate(547.5,365.7) scale(0.93,1)"><text x="0" y="0" font-size="10" text-anchor="middle" fill="#222">-10</text></g>
<line x1="585.5" y1="355.5" x2="585.5" y2="352.5" stroke="#333" stroke-width="1" />
<g transform="translate(585.5,365.7) scale(0.93,1)"><text x="0" y="0" font-size="10" text-anchor="middle" fill="#222">-30</text></g>
<line x1="605.5" y1="355.5" x2="605.5" y2="352.5" stroke="#333" stroke-width="1" />
<g transform="translate(605.5,365.7) scale(0.93,1)"><text x="0" y="0" font-size="10" text-anchor="middle" fill="#222">-20</text></g>
<line x1="625.5" y1="355.5" x2="625.5" y2="352.5" stroke="#333" stroke-width="1" />
<g transform="translate(625.5,365.7) scale(0.93,1)"><text x="0" y="0" font-size="10" text-anchor="middle" fill="#222">-10</text></g>
<g transform="translate(488,365.9) scale(0.93,1)"><text x="0" y="0" font-size="10" text-anchor="middle" fill="#222">-40</text></g>
<g transform="translate(565.6,365.9) scale(0.93,1)"><text x="0" y="0" font-size="10" text-anchor="middle" fill="#222">-40</text></g>
<text x="514.5" y="381.6" font-size="9.5" text-anchor="start" font-weight="normal" fill="#222" font-style="italic" >V</text>
<text x="520.5" y="383.6" font-size="6.5" text-anchor="start" font-weight="normal" fill="#222" >G</text>
<text x="525.4" y="381.6" font-size="9" text-anchor="start" font-weight="normal" fill="#222" xml:space="preserve"> (V)</text>
<text x="592.3" y="381.6" font-size="9.5" text-anchor="start" font-weight="normal" fill="#222" font-style="italic" >V</text>
<text x="598.3" y="383.6" font-size="6.5" text-anchor="start" font-weight="normal" fill="#222" >G</text>
<text x="603.2" y="381.6" font-size="9" text-anchor="start" font-weight="normal" fill="#222" xml:space="preserve"> (V)</text>
<g transform="translate(461,277.8) rotate(-90)">
<text x="-14.85" y="0" font-size="9.8" text-anchor="start" font-weight="normal" fill="#222" font-style="italic" >E</text>
<text x="-8.45" y="2" font-size="6.7" text-anchor="start" font-weight="normal" fill="#222" >F</text>
<text x="-4.35" y="0" font-size="9.3" text-anchor="start" font-weight="normal" fill="#222" xml:space="preserve"> (eV)</text>
</g>
<line x1="488.9" y1="206.8" x2="503.4" y2="206.8" stroke="#3cb4f0" stroke-width="1.6" />
<text x="506.8" y="209.4" font-size="8" text-anchor="start" font-weight="normal" fill="#222" >Thin 1.8nm</text>
<line x1="567.5" y1="206.2" x2="580.8" y2="206.2" stroke="#1414e0" stroke-width="1.6" />
<text x="584.7" y="208.9" font-size="8" text-anchor="start" font-weight="normal" fill="#222" >Thick 8.3 nm</text>
<rect x="646.5" y="253.5" width="11.0" height="102.0" fill="url(#cbg)" stroke="#111" stroke-width="1"/>
<line x1="657.5" y1="253.5" x2="659.4" y2="253.5" stroke="#111" stroke-width="1" />
<text x="660.6" y="257.8" font-size="7.6" text-anchor="start" font-weight="normal" fill="#222" >10</text>
<text x="668.8" y="253.2" font-size="5.4" text-anchor="start" font-weight="normal" fill="#222" >8</text>
<line x1="657.5" y1="273.82" x2="659.4" y2="273.82" stroke="#111" stroke-width="1" />
<text x="660.6" y="278.12" font-size="7.6" text-anchor="start" font-weight="normal" fill="#222" >10</text>
<text x="668.8" y="273.52" font-size="5.4" text-anchor="start" font-weight="normal" fill="#222" >6</text>
<line x1="657.5" y1="294.14" x2="659.4" y2="294.14" stroke="#111" stroke-width="1" />
<text x="660.6" y="298.44" font-size="7.6" text-anchor="start" font-weight="normal" fill="#222" >10</text>
<text x="668.8" y="293.84" font-size="5.4" text-anchor="start" font-weight="normal" fill="#222" >4</text>
<line x1="657.5" y1="314.46" x2="659.4" y2="314.46" stroke="#111" stroke-width="1" />
<text x="660.6" y="318.76" font-size="7.6" text-anchor="start" font-weight="normal" fill="#222" >10</text>
<text x="668.8" y="314.16" font-size="5.4" text-anchor="start" font-weight="normal" fill="#222" >2</text>
<line x1="657.5" y1="334.78" x2="659.4" y2="334.78" stroke="#111" stroke-width="1" />
<text x="660.6" y="339.08" font-size="7.6" text-anchor="start" font-weight="normal" fill="#222" >10</text>
<text x="668.8" y="334.48" font-size="5.4" text-anchor="start" font-weight="normal" fill="#222" >0</text>
<line x1="657.5" y1="355.1" x2="659.4" y2="355.1" stroke="#111" stroke-width="1" />
<text x="660.6" y="359.4" font-size="7.6" text-anchor="start" font-weight="normal" fill="#222" >10</text>
<text x="668.4" y="354.8" font-size="5.4" text-anchor="start" font-weight="normal" fill="#222" >-2</text>
<g transform="translate(677.1,304.1) rotate(90)">
<text x="-12.6" y="0" font-size="9" text-anchor="start" font-weight="normal" fill="#222" >τ</text>
<text x="-8.4" y="2" font-size="6" text-anchor="start" font-weight="normal" fill="#222" >e</text>
<text x="-3.8" y="0" font-size="8" text-anchor="start" font-weight="normal" fill="#222" >[sec]</text>
</g>
</svg></body></html>
